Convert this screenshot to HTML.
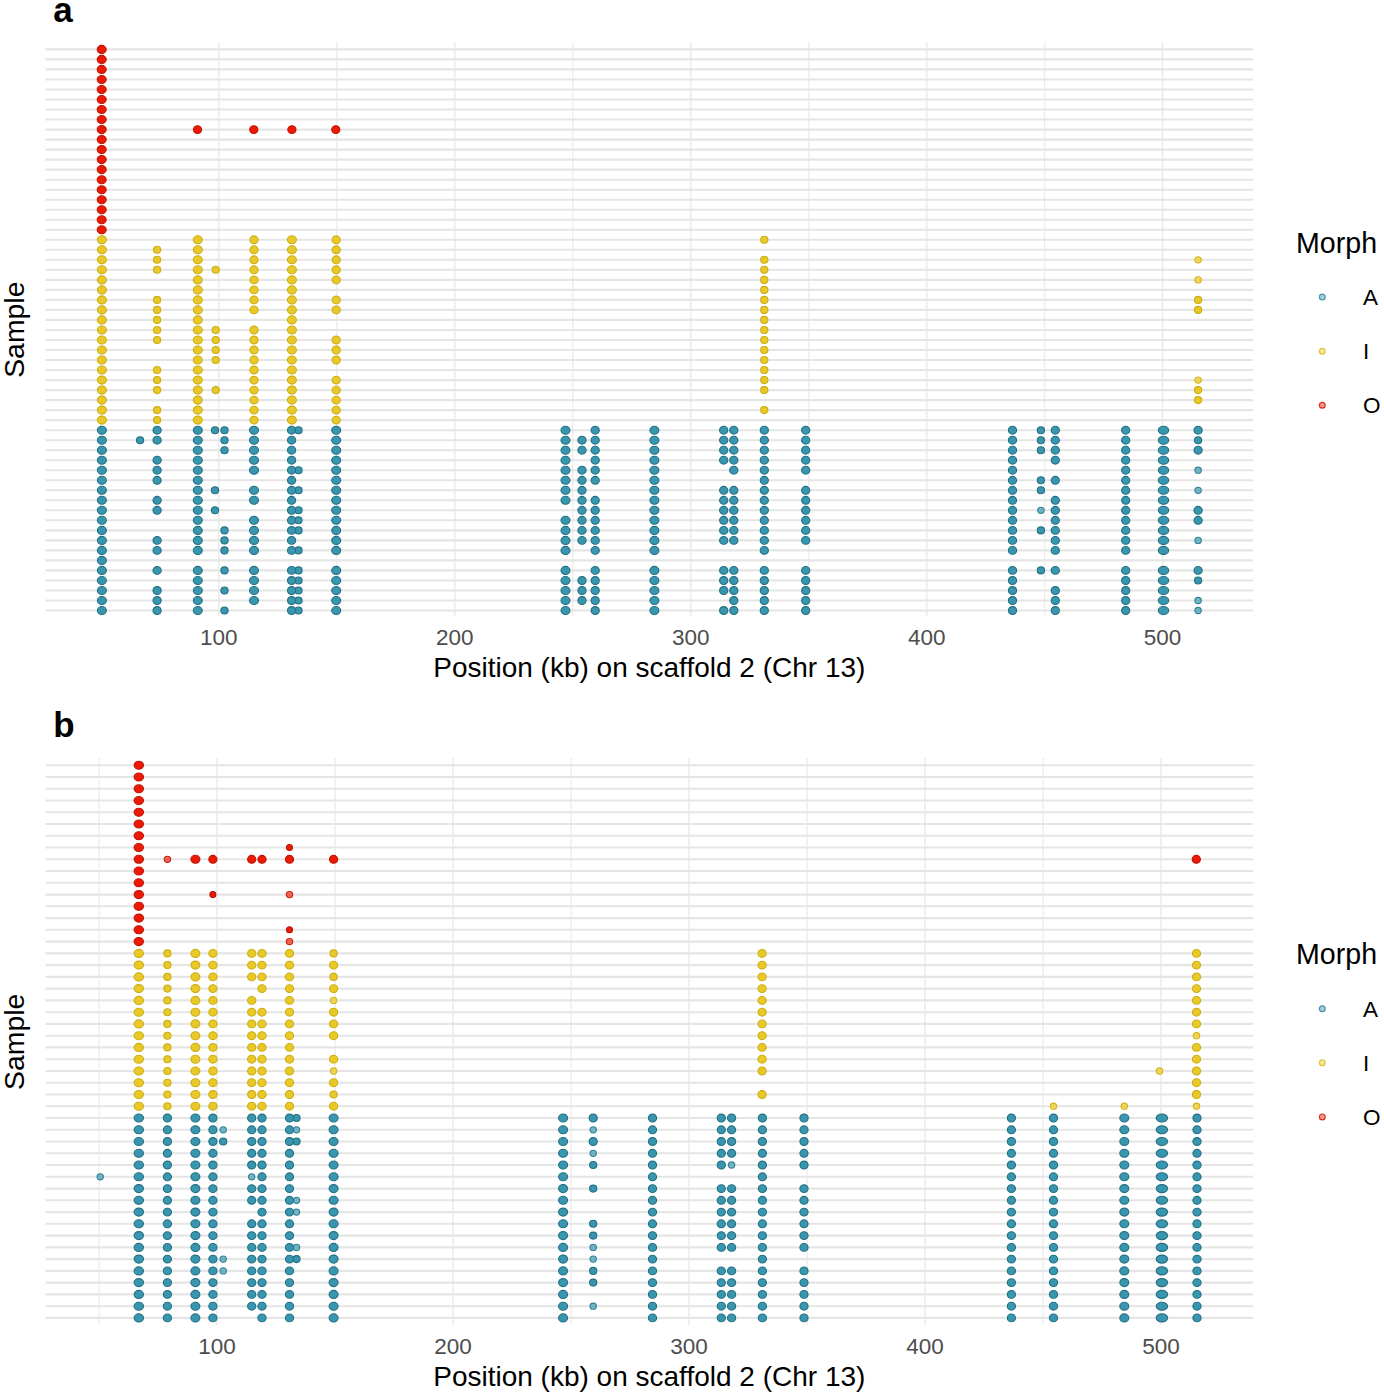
<!DOCTYPE html>
<html><head><meta charset="utf-8"><title>Morph plot</title><style>
html,body{margin:0;padding:0;background:#fff;}
body{width:1384px;height:1395px;overflow:hidden;}
svg{display:block;}
text{font-family:"Liberation Sans",sans-serif;}
.h{stroke:#e5e5e5;stroke-width:2.1;}
.vM{stroke:#ececec;stroke-width:1.6;}
.vm{stroke:#eeeeee;stroke-width:1.5;}
.tk{font-size:22.5px;fill:#4d4d4d;text-anchor:middle;}
.ttl{font-size:28px;fill:#000;text-anchor:middle;}
.lbl{font-size:35px;font-weight:bold;fill:#000;}
.lg{font-size:22.5px;fill:#000;}
.A{fill:#3896AE;stroke:#256F83;stroke-width:1.1;}
.I{fill:#E9C829;stroke:#CDAE12;stroke-width:1.1;}
.O{fill:#EC1A05;stroke:#BE1404;stroke-width:1.1;}
.As{fill:#3B9AB2;fill-opacity:0.7;stroke:#2B7C90;stroke-opacity:0.95;stroke-width:1.1;}
.Is{fill:#EBCC2A;fill-opacity:0.75;stroke:#D4B010;stroke-opacity:0.95;stroke-width:1.1;}
.Os{fill:#F21A00;fill-opacity:0.65;stroke:#C91505;stroke-opacity:0.95;stroke-width:1.1;}
.Al{fill:#3B9AB2;fill-opacity:0.45;stroke:#2E8499;stroke-opacity:0.85;stroke-width:1.2;}
.Il{fill:#EBCC2A;fill-opacity:0.45;stroke:#D9BA1C;stroke-opacity:0.85;stroke-width:1.2;}
.Ol{fill:#F21A00;fill-opacity:0.45;stroke:#D81500;stroke-opacity:0.85;stroke-width:1.2;}
</style></head>
<body>
<svg width="1384" height="1395" viewBox="0 0 1384 1395">
<rect width="1384" height="1395" fill="#fff"/>
<text x="53.3" y="22.2" class="lbl">a</text>
<text x="53.2" y="736.6" class="lbl">b</text>
<text transform="translate(24.0,329.7) rotate(-90)" class="ttl" style="font-size:28.4px">Sample</text>
<text transform="translate(24.0,1041.8) rotate(-90)" class="ttl" style="font-size:28.4px">Sample</text>
<text x="649.3" y="676.8" class="ttl">Position (kb) on scaffold 2 (Chr 13)</text>
<text x="649.3" y="1385.6" class="ttl">Position (kb) on scaffold 2 (Chr 13)</text>
<line x1="100.8" y1="42.3" x2="100.8" y2="616.5" class="vm"/>
<line x1="218.8" y1="42.3" x2="218.8" y2="616.5" class="vM"/>
<line x1="336.8" y1="42.3" x2="336.8" y2="616.5" class="vm"/>
<line x1="454.8" y1="42.3" x2="454.8" y2="616.5" class="vM"/>
<line x1="572.7" y1="42.3" x2="572.7" y2="616.5" class="vm"/>
<line x1="690.7" y1="42.3" x2="690.7" y2="616.5" class="vM"/>
<line x1="808.7" y1="42.3" x2="808.7" y2="616.5" class="vm"/>
<line x1="926.7" y1="42.3" x2="926.7" y2="616.5" class="vM"/>
<line x1="1044.6" y1="42.3" x2="1044.6" y2="616.5" class="vm"/>
<line x1="1162.6" y1="42.3" x2="1162.6" y2="616.5" class="vM"/>
<line x1="45.5" y1="49.4" x2="1253" y2="49.4" class="h"/>
<line x1="45.5" y1="59.4" x2="1253" y2="59.4" class="h"/>
<line x1="45.5" y1="69.4" x2="1253" y2="69.4" class="h"/>
<line x1="45.5" y1="79.5" x2="1253" y2="79.5" class="h"/>
<line x1="45.5" y1="89.5" x2="1253" y2="89.5" class="h"/>
<line x1="45.5" y1="99.5" x2="1253" y2="99.5" class="h"/>
<line x1="45.5" y1="109.5" x2="1253" y2="109.5" class="h"/>
<line x1="45.5" y1="119.5" x2="1253" y2="119.5" class="h"/>
<line x1="45.5" y1="129.6" x2="1253" y2="129.6" class="h"/>
<line x1="45.5" y1="139.6" x2="1253" y2="139.6" class="h"/>
<line x1="45.5" y1="149.6" x2="1253" y2="149.6" class="h"/>
<line x1="45.5" y1="159.6" x2="1253" y2="159.6" class="h"/>
<line x1="45.5" y1="169.6" x2="1253" y2="169.6" class="h"/>
<line x1="45.5" y1="179.7" x2="1253" y2="179.7" class="h"/>
<line x1="45.5" y1="189.7" x2="1253" y2="189.7" class="h"/>
<line x1="45.5" y1="199.7" x2="1253" y2="199.7" class="h"/>
<line x1="45.5" y1="209.7" x2="1253" y2="209.7" class="h"/>
<line x1="45.5" y1="219.7" x2="1253" y2="219.7" class="h"/>
<line x1="45.5" y1="229.8" x2="1253" y2="229.8" class="h"/>
<line x1="45.5" y1="239.8" x2="1253" y2="239.8" class="h"/>
<line x1="45.5" y1="249.8" x2="1253" y2="249.8" class="h"/>
<line x1="45.5" y1="259.8" x2="1253" y2="259.8" class="h"/>
<line x1="45.5" y1="269.8" x2="1253" y2="269.8" class="h"/>
<line x1="45.5" y1="279.9" x2="1253" y2="279.9" class="h"/>
<line x1="45.5" y1="289.9" x2="1253" y2="289.9" class="h"/>
<line x1="45.5" y1="299.9" x2="1253" y2="299.9" class="h"/>
<line x1="45.5" y1="309.9" x2="1253" y2="309.9" class="h"/>
<line x1="45.5" y1="319.9" x2="1253" y2="319.9" class="h"/>
<line x1="45.5" y1="330" x2="1253" y2="330" class="h"/>
<line x1="45.5" y1="340" x2="1253" y2="340" class="h"/>
<line x1="45.5" y1="350" x2="1253" y2="350" class="h"/>
<line x1="45.5" y1="360" x2="1253" y2="360" class="h"/>
<line x1="45.5" y1="370" x2="1253" y2="370" class="h"/>
<line x1="45.5" y1="380.1" x2="1253" y2="380.1" class="h"/>
<line x1="45.5" y1="390.1" x2="1253" y2="390.1" class="h"/>
<line x1="45.5" y1="400.1" x2="1253" y2="400.1" class="h"/>
<line x1="45.5" y1="410.1" x2="1253" y2="410.1" class="h"/>
<line x1="45.5" y1="420.1" x2="1253" y2="420.1" class="h"/>
<line x1="45.5" y1="430.2" x2="1253" y2="430.2" class="h"/>
<line x1="45.5" y1="440.2" x2="1253" y2="440.2" class="h"/>
<line x1="45.5" y1="450.2" x2="1253" y2="450.2" class="h"/>
<line x1="45.5" y1="460.2" x2="1253" y2="460.2" class="h"/>
<line x1="45.5" y1="470.2" x2="1253" y2="470.2" class="h"/>
<line x1="45.5" y1="480.3" x2="1253" y2="480.3" class="h"/>
<line x1="45.5" y1="490.3" x2="1253" y2="490.3" class="h"/>
<line x1="45.5" y1="500.3" x2="1253" y2="500.3" class="h"/>
<line x1="45.5" y1="510.3" x2="1253" y2="510.3" class="h"/>
<line x1="45.5" y1="520.3" x2="1253" y2="520.3" class="h"/>
<line x1="45.5" y1="530.4" x2="1253" y2="530.4" class="h"/>
<line x1="45.5" y1="540.4" x2="1253" y2="540.4" class="h"/>
<line x1="45.5" y1="550.4" x2="1253" y2="550.4" class="h"/>
<line x1="45.5" y1="560.4" x2="1253" y2="560.4" class="h"/>
<line x1="45.5" y1="570.4" x2="1253" y2="570.4" class="h"/>
<line x1="45.5" y1="580.5" x2="1253" y2="580.5" class="h"/>
<line x1="45.5" y1="590.5" x2="1253" y2="590.5" class="h"/>
<line x1="45.5" y1="600.5" x2="1253" y2="600.5" class="h"/>
<line x1="45.5" y1="610.5" x2="1253" y2="610.5" class="h"/>
<text x="218.8" y="645.3" class="tk">100</text>
<text x="454.8" y="645.3" class="tk">200</text>
<text x="690.7" y="645.3" class="tk">300</text>
<text x="926.7" y="645.3" class="tk">400</text>
<text x="1162.6" y="645.3" class="tk">500</text>
<ellipse cx="101.7" cy="49.4" rx="4.5" ry="4" class="O"/>
<ellipse cx="101.7" cy="59.4" rx="4.5" ry="4" class="O"/>
<ellipse cx="101.7" cy="69.4" rx="4.5" ry="4" class="O"/>
<ellipse cx="101.7" cy="79.5" rx="4.5" ry="4" class="O"/>
<ellipse cx="101.7" cy="89.5" rx="4.5" ry="4" class="O"/>
<ellipse cx="101.7" cy="99.5" rx="4.5" ry="4" class="O"/>
<ellipse cx="101.7" cy="109.5" rx="4.5" ry="4" class="O"/>
<ellipse cx="101.7" cy="119.5" rx="4.5" ry="4" class="O"/>
<ellipse cx="101.7" cy="129.6" rx="4.5" ry="4" class="O"/>
<ellipse cx="101.7" cy="139.6" rx="4.5" ry="4" class="O"/>
<ellipse cx="101.7" cy="149.6" rx="4.5" ry="4" class="O"/>
<ellipse cx="101.7" cy="159.6" rx="4.5" ry="4" class="O"/>
<ellipse cx="101.7" cy="169.6" rx="4.5" ry="4" class="O"/>
<ellipse cx="101.7" cy="179.7" rx="4.5" ry="4" class="O"/>
<ellipse cx="101.7" cy="189.7" rx="4.5" ry="4" class="O"/>
<ellipse cx="101.7" cy="199.7" rx="4.5" ry="4" class="O"/>
<ellipse cx="101.7" cy="209.7" rx="4.5" ry="4" class="O"/>
<ellipse cx="101.7" cy="219.7" rx="4.5" ry="4" class="O"/>
<ellipse cx="101.7" cy="229.8" rx="4.5" ry="4" class="O"/>
<ellipse cx="197.5" cy="129.6" rx="4.1" ry="3.9" class="O"/>
<ellipse cx="253.8" cy="129.6" rx="4.1" ry="3.9" class="O"/>
<ellipse cx="291.9" cy="129.6" rx="4.1" ry="3.9" class="O"/>
<ellipse cx="335.8" cy="129.6" rx="4.1" ry="3.9" class="O"/>
<ellipse cx="101.9" cy="239.8" rx="4.5" ry="4" class="I"/>
<ellipse cx="101.9" cy="249.8" rx="4.5" ry="4" class="I"/>
<ellipse cx="101.9" cy="259.8" rx="4.5" ry="4" class="I"/>
<ellipse cx="101.9" cy="269.8" rx="4.5" ry="4" class="I"/>
<ellipse cx="101.9" cy="279.9" rx="4.5" ry="4" class="I"/>
<ellipse cx="101.9" cy="289.9" rx="4.5" ry="4" class="I"/>
<ellipse cx="101.9" cy="299.9" rx="4.5" ry="4" class="I"/>
<ellipse cx="101.9" cy="309.9" rx="4.5" ry="4" class="I"/>
<ellipse cx="101.9" cy="319.9" rx="4.5" ry="4" class="I"/>
<ellipse cx="101.9" cy="330" rx="4.5" ry="4" class="I"/>
<ellipse cx="101.9" cy="340" rx="4.5" ry="4" class="I"/>
<ellipse cx="101.9" cy="350" rx="4.5" ry="4" class="I"/>
<ellipse cx="101.9" cy="360" rx="4.5" ry="4" class="I"/>
<ellipse cx="101.9" cy="370" rx="4.5" ry="4" class="I"/>
<ellipse cx="101.9" cy="380.1" rx="4.5" ry="4" class="I"/>
<ellipse cx="101.9" cy="390.1" rx="4.5" ry="4" class="I"/>
<ellipse cx="101.9" cy="400.1" rx="4.5" ry="4" class="I"/>
<ellipse cx="101.9" cy="410.1" rx="4.5" ry="4" class="I"/>
<ellipse cx="101.9" cy="420.1" rx="4.5" ry="4" class="I"/>
<ellipse cx="157.1" cy="249.8" rx="3.6" ry="3.5" class="I"/>
<ellipse cx="157.1" cy="259.8" rx="3.6" ry="3.5" class="I"/>
<ellipse cx="157.1" cy="269.8" rx="3.6" ry="3.5" class="I"/>
<ellipse cx="157.1" cy="299.9" rx="3.6" ry="3.5" class="I"/>
<ellipse cx="157.1" cy="309.9" rx="3.6" ry="3.5" class="I"/>
<ellipse cx="157.1" cy="319.9" rx="3.6" ry="3.5" class="I"/>
<ellipse cx="157.1" cy="330" rx="3.6" ry="3.5" class="I"/>
<ellipse cx="157.1" cy="340" rx="3.6" ry="3.5" class="I"/>
<ellipse cx="157.1" cy="370" rx="3.6" ry="3.5" class="I"/>
<ellipse cx="157.1" cy="380.1" rx="3.6" ry="3.5" class="I"/>
<ellipse cx="157.1" cy="390.1" rx="3.6" ry="3.5" class="I"/>
<ellipse cx="157.1" cy="410.1" rx="3.6" ry="3.5" class="I"/>
<ellipse cx="157.1" cy="420.1" rx="3.6" ry="3.5" class="I"/>
<ellipse cx="197.8" cy="239.8" rx="4.5" ry="4" class="I"/>
<ellipse cx="197.8" cy="249.8" rx="4.5" ry="4" class="I"/>
<ellipse cx="197.8" cy="259.8" rx="4.5" ry="4" class="I"/>
<ellipse cx="197.8" cy="269.8" rx="4.5" ry="4" class="I"/>
<ellipse cx="197.8" cy="279.9" rx="4.5" ry="4" class="I"/>
<ellipse cx="197.8" cy="289.9" rx="4.5" ry="4" class="I"/>
<ellipse cx="197.8" cy="299.9" rx="4.5" ry="4" class="I"/>
<ellipse cx="197.8" cy="309.9" rx="4.5" ry="4" class="I"/>
<ellipse cx="197.8" cy="319.9" rx="4.5" ry="4" class="I"/>
<ellipse cx="197.8" cy="330" rx="4.5" ry="4" class="I"/>
<ellipse cx="197.8" cy="340" rx="4.5" ry="4" class="I"/>
<ellipse cx="197.8" cy="350" rx="4.5" ry="4" class="I"/>
<ellipse cx="197.8" cy="360" rx="4.5" ry="4" class="I"/>
<ellipse cx="197.8" cy="370" rx="4.5" ry="4" class="I"/>
<ellipse cx="197.8" cy="380.1" rx="4.5" ry="4" class="I"/>
<ellipse cx="197.8" cy="390.1" rx="4.5" ry="4" class="I"/>
<ellipse cx="197.8" cy="400.1" rx="4.5" ry="4" class="I"/>
<ellipse cx="197.8" cy="410.1" rx="4.5" ry="4" class="I"/>
<ellipse cx="197.8" cy="420.1" rx="4.5" ry="4" class="I"/>
<ellipse cx="215.7" cy="269.8" rx="3.6" ry="3.5" class="I"/>
<ellipse cx="215.7" cy="330" rx="3.6" ry="3.5" class="I"/>
<ellipse cx="215.7" cy="340" rx="3.6" ry="3.5" class="I"/>
<ellipse cx="215.7" cy="350" rx="3.6" ry="3.5" class="I"/>
<ellipse cx="215.7" cy="360" rx="3.6" ry="3.5" class="I"/>
<ellipse cx="215.7" cy="390.1" rx="3.6" ry="3.5" class="I"/>
<ellipse cx="254" cy="239.8" rx="4.1" ry="3.9" class="I"/>
<ellipse cx="254" cy="249.8" rx="4.1" ry="3.9" class="I"/>
<ellipse cx="254" cy="259.8" rx="4.1" ry="3.9" class="I"/>
<ellipse cx="254" cy="269.8" rx="4.1" ry="3.9" class="I"/>
<ellipse cx="254" cy="279.9" rx="4.1" ry="3.9" class="I"/>
<ellipse cx="254" cy="289.9" rx="4.1" ry="3.9" class="I"/>
<ellipse cx="254" cy="299.9" rx="4.1" ry="3.9" class="I"/>
<ellipse cx="254" cy="309.9" rx="4.1" ry="3.9" class="I"/>
<ellipse cx="254" cy="330" rx="4.1" ry="3.9" class="I"/>
<ellipse cx="254" cy="340" rx="4.1" ry="3.9" class="I"/>
<ellipse cx="254" cy="350" rx="4.1" ry="3.9" class="I"/>
<ellipse cx="254" cy="360" rx="4.1" ry="3.9" class="I"/>
<ellipse cx="254" cy="370" rx="4.1" ry="3.9" class="I"/>
<ellipse cx="254" cy="380.1" rx="4.1" ry="3.9" class="I"/>
<ellipse cx="254" cy="390.1" rx="4.1" ry="3.9" class="I"/>
<ellipse cx="254" cy="400.1" rx="4.1" ry="3.9" class="I"/>
<ellipse cx="254" cy="410.1" rx="4.1" ry="3.9" class="I"/>
<ellipse cx="254" cy="420.1" rx="4.1" ry="3.9" class="I"/>
<ellipse cx="291.9" cy="239.8" rx="4.5" ry="4" class="I"/>
<ellipse cx="291.9" cy="249.8" rx="4.5" ry="4" class="I"/>
<ellipse cx="291.9" cy="259.8" rx="4.5" ry="4" class="I"/>
<ellipse cx="291.9" cy="269.8" rx="4.5" ry="4" class="I"/>
<ellipse cx="291.9" cy="279.9" rx="4.5" ry="4" class="I"/>
<ellipse cx="291.9" cy="289.9" rx="4.5" ry="4" class="I"/>
<ellipse cx="291.9" cy="299.9" rx="4.5" ry="4" class="I"/>
<ellipse cx="291.9" cy="309.9" rx="4.5" ry="4" class="I"/>
<ellipse cx="291.9" cy="319.9" rx="4.5" ry="4" class="I"/>
<ellipse cx="291.9" cy="330" rx="4.5" ry="4" class="I"/>
<ellipse cx="291.9" cy="340" rx="4.5" ry="4" class="I"/>
<ellipse cx="291.9" cy="350" rx="4.5" ry="4" class="I"/>
<ellipse cx="291.9" cy="360" rx="4.5" ry="4" class="I"/>
<ellipse cx="291.9" cy="370" rx="4.5" ry="4" class="I"/>
<ellipse cx="291.9" cy="380.1" rx="4.5" ry="4" class="I"/>
<ellipse cx="291.9" cy="390.1" rx="4.5" ry="4" class="I"/>
<ellipse cx="291.9" cy="400.1" rx="4.5" ry="4" class="I"/>
<ellipse cx="291.9" cy="410.1" rx="4.5" ry="4" class="I"/>
<ellipse cx="291.9" cy="420.1" rx="4.5" ry="4" class="I"/>
<ellipse cx="336.2" cy="239.8" rx="4.1" ry="3.9" class="I"/>
<ellipse cx="336.2" cy="249.8" rx="4.1" ry="3.9" class="I"/>
<ellipse cx="336.2" cy="259.8" rx="4.1" ry="3.9" class="I"/>
<ellipse cx="336.2" cy="269.8" rx="4.1" ry="3.9" class="I"/>
<ellipse cx="336.2" cy="279.9" rx="4.1" ry="3.9" class="I"/>
<ellipse cx="336.2" cy="299.9" rx="4.1" ry="3.9" class="I"/>
<ellipse cx="336.2" cy="309.9" rx="4.1" ry="3.9" class="I"/>
<ellipse cx="336.2" cy="340" rx="4.1" ry="3.9" class="I"/>
<ellipse cx="336.2" cy="350" rx="4.1" ry="3.9" class="I"/>
<ellipse cx="336.2" cy="360" rx="4.1" ry="3.9" class="I"/>
<ellipse cx="336.2" cy="380.1" rx="4.1" ry="3.9" class="I"/>
<ellipse cx="336.2" cy="390.1" rx="4.1" ry="3.9" class="I"/>
<ellipse cx="336.2" cy="400.1" rx="4.1" ry="3.9" class="I"/>
<ellipse cx="336.2" cy="410.1" rx="4.1" ry="3.9" class="I"/>
<ellipse cx="336.2" cy="420.1" rx="4.1" ry="3.9" class="I"/>
<ellipse cx="764.3" cy="239.8" rx="3.6" ry="3.5" class="I"/>
<ellipse cx="764.3" cy="259.8" rx="3.6" ry="3.5" class="I"/>
<ellipse cx="764.3" cy="269.8" rx="3.6" ry="3.5" class="I"/>
<ellipse cx="764.3" cy="279.9" rx="3.6" ry="3.5" class="I"/>
<ellipse cx="764.3" cy="289.9" rx="3.6" ry="3.5" class="I"/>
<ellipse cx="764.3" cy="299.9" rx="3.6" ry="3.5" class="I"/>
<ellipse cx="764.3" cy="309.9" rx="3.6" ry="3.5" class="I"/>
<ellipse cx="764.3" cy="319.9" rx="3.6" ry="3.5" class="I"/>
<ellipse cx="764.3" cy="330" rx="3.6" ry="3.5" class="I"/>
<ellipse cx="764.3" cy="340" rx="3.6" ry="3.5" class="I"/>
<ellipse cx="764.3" cy="350" rx="3.6" ry="3.5" class="I"/>
<ellipse cx="764.3" cy="360" rx="3.6" ry="3.5" class="I"/>
<ellipse cx="764.3" cy="370" rx="3.6" ry="3.5" class="I"/>
<ellipse cx="764.3" cy="380.1" rx="3.6" ry="3.5" class="I"/>
<ellipse cx="764.3" cy="390.1" rx="3.6" ry="3.5" class="I"/>
<ellipse cx="764.3" cy="410.1" rx="3.6" ry="3.5" class="I"/>
<ellipse cx="1198.1" cy="299.9" rx="3.6" ry="3.5" class="I"/>
<ellipse cx="1198.1" cy="309.9" rx="3.6" ry="3.5" class="I"/>
<ellipse cx="1198.1" cy="390.1" rx="3.6" ry="3.5" class="I"/>
<ellipse cx="1198.1" cy="400.1" rx="3.6" ry="3.5" class="I"/>
<ellipse cx="1198.1" cy="259.8" rx="3.2" ry="3.1" class="Is"/>
<ellipse cx="1198.1" cy="279.9" rx="3.2" ry="3.1" class="Is"/>
<ellipse cx="1198.1" cy="380.1" rx="3.2" ry="3.1" class="Is"/>
<ellipse cx="101.9" cy="430.2" rx="4.5" ry="4" class="A"/>
<ellipse cx="101.9" cy="440.2" rx="4.5" ry="4" class="A"/>
<ellipse cx="101.9" cy="450.2" rx="4.5" ry="4" class="A"/>
<ellipse cx="101.9" cy="460.2" rx="4.5" ry="4" class="A"/>
<ellipse cx="101.9" cy="470.2" rx="4.5" ry="4" class="A"/>
<ellipse cx="101.9" cy="480.3" rx="4.5" ry="4" class="A"/>
<ellipse cx="101.9" cy="490.3" rx="4.5" ry="4" class="A"/>
<ellipse cx="101.9" cy="500.3" rx="4.5" ry="4" class="A"/>
<ellipse cx="101.9" cy="510.3" rx="4.5" ry="4" class="A"/>
<ellipse cx="101.9" cy="520.3" rx="4.5" ry="4" class="A"/>
<ellipse cx="101.9" cy="530.4" rx="4.5" ry="4" class="A"/>
<ellipse cx="101.9" cy="540.4" rx="4.5" ry="4" class="A"/>
<ellipse cx="101.9" cy="550.4" rx="4.5" ry="4" class="A"/>
<ellipse cx="101.9" cy="560.4" rx="4.5" ry="4" class="A"/>
<ellipse cx="101.9" cy="570.4" rx="4.5" ry="4" class="A"/>
<ellipse cx="101.9" cy="580.5" rx="4.5" ry="4" class="A"/>
<ellipse cx="101.9" cy="590.5" rx="4.5" ry="4" class="A"/>
<ellipse cx="101.9" cy="600.5" rx="4.5" ry="4" class="A"/>
<ellipse cx="101.9" cy="610.5" rx="4.5" ry="4" class="A"/>
<ellipse cx="140.1" cy="440.2" rx="3.6" ry="3.5" class="A"/>
<ellipse cx="157.1" cy="430.2" rx="4.1" ry="3.9" class="A"/>
<ellipse cx="157.1" cy="440.2" rx="4.1" ry="3.9" class="A"/>
<ellipse cx="157.1" cy="460.2" rx="4.1" ry="3.9" class="A"/>
<ellipse cx="157.1" cy="470.2" rx="4.1" ry="3.9" class="A"/>
<ellipse cx="157.1" cy="480.3" rx="4.1" ry="3.9" class="A"/>
<ellipse cx="157.1" cy="500.3" rx="4.1" ry="3.9" class="A"/>
<ellipse cx="157.1" cy="510.3" rx="4.1" ry="3.9" class="A"/>
<ellipse cx="157.1" cy="540.4" rx="4.1" ry="3.9" class="A"/>
<ellipse cx="157.1" cy="550.4" rx="4.1" ry="3.9" class="A"/>
<ellipse cx="157.1" cy="570.4" rx="4.1" ry="3.9" class="A"/>
<ellipse cx="157.1" cy="590.5" rx="4.1" ry="3.9" class="A"/>
<ellipse cx="157.1" cy="600.5" rx="4.1" ry="3.9" class="A"/>
<ellipse cx="157.1" cy="610.5" rx="4.1" ry="3.9" class="A"/>
<ellipse cx="197.8" cy="430.2" rx="4.5" ry="4" class="A"/>
<ellipse cx="197.8" cy="440.2" rx="4.5" ry="4" class="A"/>
<ellipse cx="197.8" cy="450.2" rx="4.5" ry="4" class="A"/>
<ellipse cx="197.8" cy="460.2" rx="4.5" ry="4" class="A"/>
<ellipse cx="197.8" cy="470.2" rx="4.5" ry="4" class="A"/>
<ellipse cx="197.8" cy="480.3" rx="4.5" ry="4" class="A"/>
<ellipse cx="197.8" cy="490.3" rx="4.5" ry="4" class="A"/>
<ellipse cx="197.8" cy="500.3" rx="4.5" ry="4" class="A"/>
<ellipse cx="197.8" cy="510.3" rx="4.5" ry="4" class="A"/>
<ellipse cx="197.8" cy="520.3" rx="4.5" ry="4" class="A"/>
<ellipse cx="197.8" cy="530.4" rx="4.5" ry="4" class="A"/>
<ellipse cx="197.8" cy="540.4" rx="4.5" ry="4" class="A"/>
<ellipse cx="197.8" cy="550.4" rx="4.5" ry="4" class="A"/>
<ellipse cx="197.8" cy="570.4" rx="4.5" ry="4" class="A"/>
<ellipse cx="197.8" cy="580.5" rx="4.5" ry="4" class="A"/>
<ellipse cx="197.8" cy="590.5" rx="4.5" ry="4" class="A"/>
<ellipse cx="197.8" cy="600.5" rx="4.5" ry="4" class="A"/>
<ellipse cx="197.8" cy="610.5" rx="4.5" ry="4" class="A"/>
<ellipse cx="215" cy="430.2" rx="3.6" ry="3.5" class="A"/>
<ellipse cx="215" cy="490.3" rx="3.6" ry="3.5" class="A"/>
<ellipse cx="215" cy="510.3" rx="3.6" ry="3.5" class="A"/>
<ellipse cx="224.5" cy="430.2" rx="3.6" ry="3.5" class="A"/>
<ellipse cx="224.5" cy="440.2" rx="3.6" ry="3.5" class="A"/>
<ellipse cx="224.5" cy="450.2" rx="3.6" ry="3.5" class="A"/>
<ellipse cx="224.5" cy="530.4" rx="3.6" ry="3.5" class="A"/>
<ellipse cx="224.5" cy="540.4" rx="3.6" ry="3.5" class="A"/>
<ellipse cx="224.5" cy="550.4" rx="3.6" ry="3.5" class="A"/>
<ellipse cx="224.5" cy="570.4" rx="3.6" ry="3.5" class="A"/>
<ellipse cx="224.5" cy="590.5" rx="3.6" ry="3.5" class="A"/>
<ellipse cx="224.5" cy="610.5" rx="3.6" ry="3.5" class="A"/>
<ellipse cx="254" cy="430.2" rx="4.5" ry="4" class="A"/>
<ellipse cx="254" cy="440.2" rx="4.5" ry="4" class="A"/>
<ellipse cx="254" cy="450.2" rx="4.5" ry="4" class="A"/>
<ellipse cx="254" cy="460.2" rx="4.5" ry="4" class="A"/>
<ellipse cx="254" cy="470.2" rx="4.5" ry="4" class="A"/>
<ellipse cx="254" cy="490.3" rx="4.5" ry="4" class="A"/>
<ellipse cx="254" cy="500.3" rx="4.5" ry="4" class="A"/>
<ellipse cx="254" cy="520.3" rx="4.5" ry="4" class="A"/>
<ellipse cx="254" cy="530.4" rx="4.5" ry="4" class="A"/>
<ellipse cx="254" cy="540.4" rx="4.5" ry="4" class="A"/>
<ellipse cx="254" cy="550.4" rx="4.5" ry="4" class="A"/>
<ellipse cx="254" cy="570.4" rx="4.5" ry="4" class="A"/>
<ellipse cx="254" cy="580.5" rx="4.5" ry="4" class="A"/>
<ellipse cx="254" cy="590.5" rx="4.5" ry="4" class="A"/>
<ellipse cx="254" cy="600.5" rx="4.5" ry="4" class="A"/>
<ellipse cx="298.5" cy="430.2" rx="3.6" ry="3.5" class="A"/>
<ellipse cx="298.5" cy="470.2" rx="3.6" ry="3.5" class="A"/>
<ellipse cx="298.5" cy="490.3" rx="3.6" ry="3.5" class="A"/>
<ellipse cx="298.5" cy="510.3" rx="3.6" ry="3.5" class="A"/>
<ellipse cx="298.5" cy="520.3" rx="3.6" ry="3.5" class="A"/>
<ellipse cx="298.5" cy="530.4" rx="3.6" ry="3.5" class="A"/>
<ellipse cx="298.5" cy="550.4" rx="3.6" ry="3.5" class="A"/>
<ellipse cx="298.5" cy="570.4" rx="3.6" ry="3.5" class="A"/>
<ellipse cx="298.5" cy="580.5" rx="3.6" ry="3.5" class="A"/>
<ellipse cx="298.5" cy="590.5" rx="3.6" ry="3.5" class="A"/>
<ellipse cx="298.5" cy="600.5" rx="3.6" ry="3.5" class="A"/>
<ellipse cx="298.5" cy="610.5" rx="3.6" ry="3.5" class="A"/>
<ellipse cx="291.6" cy="430.2" rx="4.1" ry="3.9" class="A"/>
<ellipse cx="291.6" cy="440.2" rx="4.1" ry="3.9" class="A"/>
<ellipse cx="291.6" cy="450.2" rx="4.1" ry="3.9" class="A"/>
<ellipse cx="291.6" cy="460.2" rx="4.1" ry="3.9" class="A"/>
<ellipse cx="291.6" cy="470.2" rx="4.1" ry="3.9" class="A"/>
<ellipse cx="291.6" cy="480.3" rx="4.1" ry="3.9" class="A"/>
<ellipse cx="291.6" cy="490.3" rx="4.1" ry="3.9" class="A"/>
<ellipse cx="291.6" cy="500.3" rx="4.1" ry="3.9" class="A"/>
<ellipse cx="291.6" cy="510.3" rx="4.1" ry="3.9" class="A"/>
<ellipse cx="291.6" cy="520.3" rx="4.1" ry="3.9" class="A"/>
<ellipse cx="291.6" cy="530.4" rx="4.1" ry="3.9" class="A"/>
<ellipse cx="291.6" cy="540.4" rx="4.1" ry="3.9" class="A"/>
<ellipse cx="291.6" cy="550.4" rx="4.1" ry="3.9" class="A"/>
<ellipse cx="291.6" cy="570.4" rx="4.1" ry="3.9" class="A"/>
<ellipse cx="291.6" cy="580.5" rx="4.1" ry="3.9" class="A"/>
<ellipse cx="291.6" cy="590.5" rx="4.1" ry="3.9" class="A"/>
<ellipse cx="291.6" cy="600.5" rx="4.1" ry="3.9" class="A"/>
<ellipse cx="291.6" cy="610.5" rx="4.1" ry="3.9" class="A"/>
<ellipse cx="336.2" cy="430.2" rx="4.5" ry="4" class="A"/>
<ellipse cx="336.2" cy="440.2" rx="4.5" ry="4" class="A"/>
<ellipse cx="336.2" cy="450.2" rx="4.5" ry="4" class="A"/>
<ellipse cx="336.2" cy="460.2" rx="4.5" ry="4" class="A"/>
<ellipse cx="336.2" cy="470.2" rx="4.5" ry="4" class="A"/>
<ellipse cx="336.2" cy="480.3" rx="4.5" ry="4" class="A"/>
<ellipse cx="336.2" cy="490.3" rx="4.5" ry="4" class="A"/>
<ellipse cx="336.2" cy="500.3" rx="4.5" ry="4" class="A"/>
<ellipse cx="336.2" cy="510.3" rx="4.5" ry="4" class="A"/>
<ellipse cx="336.2" cy="520.3" rx="4.5" ry="4" class="A"/>
<ellipse cx="336.2" cy="530.4" rx="4.5" ry="4" class="A"/>
<ellipse cx="336.2" cy="540.4" rx="4.5" ry="4" class="A"/>
<ellipse cx="336.2" cy="550.4" rx="4.5" ry="4" class="A"/>
<ellipse cx="336.2" cy="570.4" rx="4.5" ry="4" class="A"/>
<ellipse cx="336.2" cy="580.5" rx="4.5" ry="4" class="A"/>
<ellipse cx="336.2" cy="590.5" rx="4.5" ry="4" class="A"/>
<ellipse cx="336.2" cy="600.5" rx="4.5" ry="4" class="A"/>
<ellipse cx="336.2" cy="610.5" rx="4.5" ry="4" class="A"/>
<ellipse cx="565.5" cy="430.2" rx="4.5" ry="4" class="A"/>
<ellipse cx="565.5" cy="440.2" rx="4.5" ry="4" class="A"/>
<ellipse cx="565.5" cy="450.2" rx="4.5" ry="4" class="A"/>
<ellipse cx="565.5" cy="460.2" rx="4.5" ry="4" class="A"/>
<ellipse cx="565.5" cy="470.2" rx="4.5" ry="4" class="A"/>
<ellipse cx="565.5" cy="480.3" rx="4.5" ry="4" class="A"/>
<ellipse cx="565.5" cy="490.3" rx="4.5" ry="4" class="A"/>
<ellipse cx="565.5" cy="500.3" rx="4.5" ry="4" class="A"/>
<ellipse cx="565.5" cy="520.3" rx="4.5" ry="4" class="A"/>
<ellipse cx="565.5" cy="530.4" rx="4.5" ry="4" class="A"/>
<ellipse cx="565.5" cy="540.4" rx="4.5" ry="4" class="A"/>
<ellipse cx="565.5" cy="550.4" rx="4.5" ry="4" class="A"/>
<ellipse cx="565.5" cy="570.4" rx="4.5" ry="4" class="A"/>
<ellipse cx="565.5" cy="580.5" rx="4.5" ry="4" class="A"/>
<ellipse cx="565.5" cy="590.5" rx="4.5" ry="4" class="A"/>
<ellipse cx="565.5" cy="600.5" rx="4.5" ry="4" class="A"/>
<ellipse cx="565.5" cy="610.5" rx="4.5" ry="4" class="A"/>
<ellipse cx="582" cy="440.2" rx="4.1" ry="3.9" class="A"/>
<ellipse cx="582" cy="450.2" rx="4.1" ry="3.9" class="A"/>
<ellipse cx="582" cy="470.2" rx="4.1" ry="3.9" class="A"/>
<ellipse cx="582" cy="480.3" rx="4.1" ry="3.9" class="A"/>
<ellipse cx="582" cy="490.3" rx="4.1" ry="3.9" class="A"/>
<ellipse cx="582" cy="500.3" rx="4.1" ry="3.9" class="A"/>
<ellipse cx="582" cy="510.3" rx="4.1" ry="3.9" class="A"/>
<ellipse cx="582" cy="520.3" rx="4.1" ry="3.9" class="A"/>
<ellipse cx="582" cy="530.4" rx="4.1" ry="3.9" class="A"/>
<ellipse cx="582" cy="540.4" rx="4.1" ry="3.9" class="A"/>
<ellipse cx="582" cy="580.5" rx="4.1" ry="3.9" class="A"/>
<ellipse cx="582" cy="590.5" rx="4.1" ry="3.9" class="A"/>
<ellipse cx="582" cy="600.5" rx="4.1" ry="3.9" class="A"/>
<ellipse cx="595.2" cy="430.2" rx="4.1" ry="3.9" class="A"/>
<ellipse cx="595.2" cy="440.2" rx="4.1" ry="3.9" class="A"/>
<ellipse cx="595.2" cy="450.2" rx="4.1" ry="3.9" class="A"/>
<ellipse cx="595.2" cy="460.2" rx="4.1" ry="3.9" class="A"/>
<ellipse cx="595.2" cy="470.2" rx="4.1" ry="3.9" class="A"/>
<ellipse cx="595.2" cy="480.3" rx="4.1" ry="3.9" class="A"/>
<ellipse cx="595.2" cy="500.3" rx="4.1" ry="3.9" class="A"/>
<ellipse cx="595.2" cy="510.3" rx="4.1" ry="3.9" class="A"/>
<ellipse cx="595.2" cy="520.3" rx="4.1" ry="3.9" class="A"/>
<ellipse cx="595.2" cy="530.4" rx="4.1" ry="3.9" class="A"/>
<ellipse cx="595.2" cy="540.4" rx="4.1" ry="3.9" class="A"/>
<ellipse cx="595.2" cy="550.4" rx="4.1" ry="3.9" class="A"/>
<ellipse cx="595.2" cy="570.4" rx="4.1" ry="3.9" class="A"/>
<ellipse cx="595.2" cy="580.5" rx="4.1" ry="3.9" class="A"/>
<ellipse cx="595.2" cy="590.5" rx="4.1" ry="3.9" class="A"/>
<ellipse cx="595.2" cy="600.5" rx="4.1" ry="3.9" class="A"/>
<ellipse cx="595.2" cy="610.5" rx="4.1" ry="3.9" class="A"/>
<ellipse cx="654.4" cy="430.2" rx="4.5" ry="4" class="A"/>
<ellipse cx="654.4" cy="440.2" rx="4.5" ry="4" class="A"/>
<ellipse cx="654.4" cy="450.2" rx="4.5" ry="4" class="A"/>
<ellipse cx="654.4" cy="460.2" rx="4.5" ry="4" class="A"/>
<ellipse cx="654.4" cy="470.2" rx="4.5" ry="4" class="A"/>
<ellipse cx="654.4" cy="480.3" rx="4.5" ry="4" class="A"/>
<ellipse cx="654.4" cy="490.3" rx="4.5" ry="4" class="A"/>
<ellipse cx="654.4" cy="500.3" rx="4.5" ry="4" class="A"/>
<ellipse cx="654.4" cy="510.3" rx="4.5" ry="4" class="A"/>
<ellipse cx="654.4" cy="520.3" rx="4.5" ry="4" class="A"/>
<ellipse cx="654.4" cy="530.4" rx="4.5" ry="4" class="A"/>
<ellipse cx="654.4" cy="540.4" rx="4.5" ry="4" class="A"/>
<ellipse cx="654.4" cy="550.4" rx="4.5" ry="4" class="A"/>
<ellipse cx="654.4" cy="570.4" rx="4.5" ry="4" class="A"/>
<ellipse cx="654.4" cy="580.5" rx="4.5" ry="4" class="A"/>
<ellipse cx="654.4" cy="590.5" rx="4.5" ry="4" class="A"/>
<ellipse cx="654.4" cy="600.5" rx="4.5" ry="4" class="A"/>
<ellipse cx="654.4" cy="610.5" rx="4.5" ry="4" class="A"/>
<ellipse cx="723.7" cy="430.2" rx="4.1" ry="3.9" class="A"/>
<ellipse cx="723.7" cy="440.2" rx="4.1" ry="3.9" class="A"/>
<ellipse cx="723.7" cy="450.2" rx="4.1" ry="3.9" class="A"/>
<ellipse cx="723.7" cy="460.2" rx="4.1" ry="3.9" class="A"/>
<ellipse cx="723.7" cy="490.3" rx="4.1" ry="3.9" class="A"/>
<ellipse cx="723.7" cy="500.3" rx="4.1" ry="3.9" class="A"/>
<ellipse cx="723.7" cy="510.3" rx="4.1" ry="3.9" class="A"/>
<ellipse cx="723.7" cy="520.3" rx="4.1" ry="3.9" class="A"/>
<ellipse cx="723.7" cy="530.4" rx="4.1" ry="3.9" class="A"/>
<ellipse cx="723.7" cy="540.4" rx="4.1" ry="3.9" class="A"/>
<ellipse cx="723.7" cy="570.4" rx="4.1" ry="3.9" class="A"/>
<ellipse cx="723.7" cy="580.5" rx="4.1" ry="3.9" class="A"/>
<ellipse cx="723.7" cy="590.5" rx="4.1" ry="3.9" class="A"/>
<ellipse cx="723.7" cy="610.5" rx="4.1" ry="3.9" class="A"/>
<ellipse cx="733.8" cy="430.2" rx="4.1" ry="3.9" class="A"/>
<ellipse cx="733.8" cy="440.2" rx="4.1" ry="3.9" class="A"/>
<ellipse cx="733.8" cy="450.2" rx="4.1" ry="3.9" class="A"/>
<ellipse cx="733.8" cy="460.2" rx="4.1" ry="3.9" class="A"/>
<ellipse cx="733.8" cy="470.2" rx="4.1" ry="3.9" class="A"/>
<ellipse cx="733.8" cy="490.3" rx="4.1" ry="3.9" class="A"/>
<ellipse cx="733.8" cy="500.3" rx="4.1" ry="3.9" class="A"/>
<ellipse cx="733.8" cy="510.3" rx="4.1" ry="3.9" class="A"/>
<ellipse cx="733.8" cy="520.3" rx="4.1" ry="3.9" class="A"/>
<ellipse cx="733.8" cy="530.4" rx="4.1" ry="3.9" class="A"/>
<ellipse cx="733.8" cy="540.4" rx="4.1" ry="3.9" class="A"/>
<ellipse cx="733.8" cy="570.4" rx="4.1" ry="3.9" class="A"/>
<ellipse cx="733.8" cy="580.5" rx="4.1" ry="3.9" class="A"/>
<ellipse cx="733.8" cy="590.5" rx="4.1" ry="3.9" class="A"/>
<ellipse cx="733.8" cy="600.5" rx="4.1" ry="3.9" class="A"/>
<ellipse cx="733.8" cy="610.5" rx="4.1" ry="3.9" class="A"/>
<ellipse cx="764.3" cy="430.2" rx="4.1" ry="3.9" class="A"/>
<ellipse cx="764.3" cy="440.2" rx="4.1" ry="3.9" class="A"/>
<ellipse cx="764.3" cy="450.2" rx="4.1" ry="3.9" class="A"/>
<ellipse cx="764.3" cy="460.2" rx="4.1" ry="3.9" class="A"/>
<ellipse cx="764.3" cy="470.2" rx="4.1" ry="3.9" class="A"/>
<ellipse cx="764.3" cy="480.3" rx="4.1" ry="3.9" class="A"/>
<ellipse cx="764.3" cy="490.3" rx="4.1" ry="3.9" class="A"/>
<ellipse cx="764.3" cy="500.3" rx="4.1" ry="3.9" class="A"/>
<ellipse cx="764.3" cy="510.3" rx="4.1" ry="3.9" class="A"/>
<ellipse cx="764.3" cy="520.3" rx="4.1" ry="3.9" class="A"/>
<ellipse cx="764.3" cy="530.4" rx="4.1" ry="3.9" class="A"/>
<ellipse cx="764.3" cy="540.4" rx="4.1" ry="3.9" class="A"/>
<ellipse cx="764.3" cy="550.4" rx="4.1" ry="3.9" class="A"/>
<ellipse cx="764.3" cy="570.4" rx="4.1" ry="3.9" class="A"/>
<ellipse cx="764.3" cy="580.5" rx="4.1" ry="3.9" class="A"/>
<ellipse cx="764.3" cy="590.5" rx="4.1" ry="3.9" class="A"/>
<ellipse cx="764.3" cy="600.5" rx="4.1" ry="3.9" class="A"/>
<ellipse cx="764.3" cy="610.5" rx="4.1" ry="3.9" class="A"/>
<ellipse cx="805.7" cy="430.2" rx="4.1" ry="3.9" class="A"/>
<ellipse cx="805.7" cy="440.2" rx="4.1" ry="3.9" class="A"/>
<ellipse cx="805.7" cy="450.2" rx="4.1" ry="3.9" class="A"/>
<ellipse cx="805.7" cy="460.2" rx="4.1" ry="3.9" class="A"/>
<ellipse cx="805.7" cy="470.2" rx="4.1" ry="3.9" class="A"/>
<ellipse cx="805.7" cy="490.3" rx="4.1" ry="3.9" class="A"/>
<ellipse cx="805.7" cy="500.3" rx="4.1" ry="3.9" class="A"/>
<ellipse cx="805.7" cy="510.3" rx="4.1" ry="3.9" class="A"/>
<ellipse cx="805.7" cy="520.3" rx="4.1" ry="3.9" class="A"/>
<ellipse cx="805.7" cy="530.4" rx="4.1" ry="3.9" class="A"/>
<ellipse cx="805.7" cy="540.4" rx="4.1" ry="3.9" class="A"/>
<ellipse cx="805.7" cy="570.4" rx="4.1" ry="3.9" class="A"/>
<ellipse cx="805.7" cy="580.5" rx="4.1" ry="3.9" class="A"/>
<ellipse cx="805.7" cy="590.5" rx="4.1" ry="3.9" class="A"/>
<ellipse cx="805.7" cy="600.5" rx="4.1" ry="3.9" class="A"/>
<ellipse cx="805.7" cy="610.5" rx="4.1" ry="3.9" class="A"/>
<ellipse cx="1012.5" cy="430.2" rx="4.1" ry="3.9" class="A"/>
<ellipse cx="1012.5" cy="440.2" rx="4.1" ry="3.9" class="A"/>
<ellipse cx="1012.5" cy="450.2" rx="4.1" ry="3.9" class="A"/>
<ellipse cx="1012.5" cy="460.2" rx="4.1" ry="3.9" class="A"/>
<ellipse cx="1012.5" cy="470.2" rx="4.1" ry="3.9" class="A"/>
<ellipse cx="1012.5" cy="480.3" rx="4.1" ry="3.9" class="A"/>
<ellipse cx="1012.5" cy="490.3" rx="4.1" ry="3.9" class="A"/>
<ellipse cx="1012.5" cy="500.3" rx="4.1" ry="3.9" class="A"/>
<ellipse cx="1012.5" cy="510.3" rx="4.1" ry="3.9" class="A"/>
<ellipse cx="1012.5" cy="520.3" rx="4.1" ry="3.9" class="A"/>
<ellipse cx="1012.5" cy="530.4" rx="4.1" ry="3.9" class="A"/>
<ellipse cx="1012.5" cy="540.4" rx="4.1" ry="3.9" class="A"/>
<ellipse cx="1012.5" cy="550.4" rx="4.1" ry="3.9" class="A"/>
<ellipse cx="1012.5" cy="570.4" rx="4.1" ry="3.9" class="A"/>
<ellipse cx="1012.5" cy="580.5" rx="4.1" ry="3.9" class="A"/>
<ellipse cx="1012.5" cy="590.5" rx="4.1" ry="3.9" class="A"/>
<ellipse cx="1012.5" cy="600.5" rx="4.1" ry="3.9" class="A"/>
<ellipse cx="1012.5" cy="610.5" rx="4.1" ry="3.9" class="A"/>
<ellipse cx="1040.9" cy="430.2" rx="3.6" ry="3.5" class="A"/>
<ellipse cx="1040.9" cy="440.2" rx="3.6" ry="3.5" class="A"/>
<ellipse cx="1040.9" cy="450.2" rx="3.6" ry="3.5" class="A"/>
<ellipse cx="1040.9" cy="480.3" rx="3.6" ry="3.5" class="A"/>
<ellipse cx="1040.9" cy="490.3" rx="3.6" ry="3.5" class="A"/>
<ellipse cx="1040.9" cy="530.4" rx="3.6" ry="3.5" class="A"/>
<ellipse cx="1040.9" cy="570.4" rx="3.6" ry="3.5" class="A"/>
<ellipse cx="1040.9" cy="510.3" rx="3.2" ry="3.1" class="As"/>
<ellipse cx="1055.3" cy="430.2" rx="4.1" ry="3.9" class="A"/>
<ellipse cx="1055.3" cy="440.2" rx="4.1" ry="3.9" class="A"/>
<ellipse cx="1055.3" cy="450.2" rx="4.1" ry="3.9" class="A"/>
<ellipse cx="1055.3" cy="460.2" rx="4.1" ry="3.9" class="A"/>
<ellipse cx="1055.3" cy="480.3" rx="4.1" ry="3.9" class="A"/>
<ellipse cx="1055.3" cy="500.3" rx="4.1" ry="3.9" class="A"/>
<ellipse cx="1055.3" cy="510.3" rx="4.1" ry="3.9" class="A"/>
<ellipse cx="1055.3" cy="520.3" rx="4.1" ry="3.9" class="A"/>
<ellipse cx="1055.3" cy="530.4" rx="4.1" ry="3.9" class="A"/>
<ellipse cx="1055.3" cy="540.4" rx="4.1" ry="3.9" class="A"/>
<ellipse cx="1055.3" cy="550.4" rx="4.1" ry="3.9" class="A"/>
<ellipse cx="1055.3" cy="570.4" rx="4.1" ry="3.9" class="A"/>
<ellipse cx="1055.3" cy="590.5" rx="4.1" ry="3.9" class="A"/>
<ellipse cx="1055.3" cy="600.5" rx="4.1" ry="3.9" class="A"/>
<ellipse cx="1055.3" cy="610.5" rx="4.1" ry="3.9" class="A"/>
<ellipse cx="1125.7" cy="430.2" rx="4.1" ry="3.9" class="A"/>
<ellipse cx="1125.7" cy="440.2" rx="4.1" ry="3.9" class="A"/>
<ellipse cx="1125.7" cy="450.2" rx="4.1" ry="3.9" class="A"/>
<ellipse cx="1125.7" cy="460.2" rx="4.1" ry="3.9" class="A"/>
<ellipse cx="1125.7" cy="470.2" rx="4.1" ry="3.9" class="A"/>
<ellipse cx="1125.7" cy="480.3" rx="4.1" ry="3.9" class="A"/>
<ellipse cx="1125.7" cy="490.3" rx="4.1" ry="3.9" class="A"/>
<ellipse cx="1125.7" cy="500.3" rx="4.1" ry="3.9" class="A"/>
<ellipse cx="1125.7" cy="510.3" rx="4.1" ry="3.9" class="A"/>
<ellipse cx="1125.7" cy="520.3" rx="4.1" ry="3.9" class="A"/>
<ellipse cx="1125.7" cy="530.4" rx="4.1" ry="3.9" class="A"/>
<ellipse cx="1125.7" cy="540.4" rx="4.1" ry="3.9" class="A"/>
<ellipse cx="1125.7" cy="550.4" rx="4.1" ry="3.9" class="A"/>
<ellipse cx="1125.7" cy="570.4" rx="4.1" ry="3.9" class="A"/>
<ellipse cx="1125.7" cy="580.5" rx="4.1" ry="3.9" class="A"/>
<ellipse cx="1125.7" cy="590.5" rx="4.1" ry="3.9" class="A"/>
<ellipse cx="1125.7" cy="600.5" rx="4.1" ry="3.9" class="A"/>
<ellipse cx="1125.7" cy="610.5" rx="4.1" ry="3.9" class="A"/>
<ellipse cx="1163.5" cy="430.2" rx="5.2" ry="4" class="A"/>
<ellipse cx="1163.5" cy="440.2" rx="5.2" ry="4" class="A"/>
<ellipse cx="1163.5" cy="450.2" rx="5.2" ry="4" class="A"/>
<ellipse cx="1163.5" cy="460.2" rx="5.2" ry="4" class="A"/>
<ellipse cx="1163.5" cy="470.2" rx="5.2" ry="4" class="A"/>
<ellipse cx="1163.5" cy="480.3" rx="5.2" ry="4" class="A"/>
<ellipse cx="1163.5" cy="490.3" rx="5.2" ry="4" class="A"/>
<ellipse cx="1163.5" cy="500.3" rx="5.2" ry="4" class="A"/>
<ellipse cx="1163.5" cy="510.3" rx="5.2" ry="4" class="A"/>
<ellipse cx="1163.5" cy="520.3" rx="5.2" ry="4" class="A"/>
<ellipse cx="1163.5" cy="530.4" rx="5.2" ry="4" class="A"/>
<ellipse cx="1163.5" cy="540.4" rx="5.2" ry="4" class="A"/>
<ellipse cx="1163.5" cy="550.4" rx="5.2" ry="4" class="A"/>
<ellipse cx="1163.5" cy="570.4" rx="5.2" ry="4" class="A"/>
<ellipse cx="1163.5" cy="580.5" rx="5.2" ry="4" class="A"/>
<ellipse cx="1163.5" cy="590.5" rx="5.2" ry="4" class="A"/>
<ellipse cx="1163.5" cy="600.5" rx="5.2" ry="4" class="A"/>
<ellipse cx="1163.5" cy="610.5" rx="5.2" ry="4" class="A"/>
<ellipse cx="1198.1" cy="430.2" rx="4.1" ry="3.9" class="A"/>
<ellipse cx="1198.1" cy="450.2" rx="4.1" ry="3.9" class="A"/>
<ellipse cx="1198.1" cy="510.3" rx="4.1" ry="3.9" class="A"/>
<ellipse cx="1198.1" cy="520.3" rx="4.1" ry="3.9" class="A"/>
<ellipse cx="1198.1" cy="570.4" rx="4.1" ry="3.9" class="A"/>
<ellipse cx="1198.1" cy="440.2" rx="3.6" ry="3.5" class="A"/>
<ellipse cx="1198.1" cy="580.5" rx="3.6" ry="3.5" class="A"/>
<ellipse cx="1198.1" cy="470.2" rx="3.2" ry="3.1" class="As"/>
<ellipse cx="1198.1" cy="490.3" rx="3.2" ry="3.1" class="As"/>
<ellipse cx="1198.1" cy="540.4" rx="3.2" ry="3.1" class="As"/>
<ellipse cx="1198.1" cy="600.5" rx="3.2" ry="3.1" class="As"/>
<ellipse cx="1198.1" cy="610.5" rx="3.2" ry="3.1" class="As"/>
<line x1="99.1" y1="758.1" x2="99.1" y2="1325" class="vm"/>
<line x1="217.1" y1="758.1" x2="217.1" y2="1325" class="vM"/>
<line x1="335.1" y1="758.1" x2="335.1" y2="1325" class="vm"/>
<line x1="453.1" y1="758.1" x2="453.1" y2="1325" class="vM"/>
<line x1="571.1" y1="758.1" x2="571.1" y2="1325" class="vm"/>
<line x1="689.1" y1="758.1" x2="689.1" y2="1325" class="vM"/>
<line x1="807.1" y1="758.1" x2="807.1" y2="1325" class="vm"/>
<line x1="925.1" y1="758.1" x2="925.1" y2="1325" class="vM"/>
<line x1="1043.1" y1="758.1" x2="1043.1" y2="1325" class="vm"/>
<line x1="1161.1" y1="758.1" x2="1161.1" y2="1325" class="vM"/>
<line x1="45.5" y1="765.2" x2="1253" y2="765.2" class="h"/>
<line x1="45.5" y1="777" x2="1253" y2="777" class="h"/>
<line x1="45.5" y1="788.7" x2="1253" y2="788.7" class="h"/>
<line x1="45.5" y1="800.5" x2="1253" y2="800.5" class="h"/>
<line x1="45.5" y1="812.2" x2="1253" y2="812.2" class="h"/>
<line x1="45.5" y1="824" x2="1253" y2="824" class="h"/>
<line x1="45.5" y1="835.8" x2="1253" y2="835.8" class="h"/>
<line x1="45.5" y1="847.5" x2="1253" y2="847.5" class="h"/>
<line x1="45.5" y1="859.3" x2="1253" y2="859.3" class="h"/>
<line x1="45.5" y1="871" x2="1253" y2="871" class="h"/>
<line x1="45.5" y1="882.8" x2="1253" y2="882.8" class="h"/>
<line x1="45.5" y1="894.6" x2="1253" y2="894.6" class="h"/>
<line x1="45.5" y1="906.3" x2="1253" y2="906.3" class="h"/>
<line x1="45.5" y1="918.1" x2="1253" y2="918.1" class="h"/>
<line x1="45.5" y1="929.8" x2="1253" y2="929.8" class="h"/>
<line x1="45.5" y1="941.6" x2="1253" y2="941.6" class="h"/>
<line x1="45.5" y1="953.4" x2="1253" y2="953.4" class="h"/>
<line x1="45.5" y1="965.1" x2="1253" y2="965.1" class="h"/>
<line x1="45.5" y1="976.9" x2="1253" y2="976.9" class="h"/>
<line x1="45.5" y1="988.6" x2="1253" y2="988.6" class="h"/>
<line x1="45.5" y1="1000.4" x2="1253" y2="1000.4" class="h"/>
<line x1="45.5" y1="1012.2" x2="1253" y2="1012.2" class="h"/>
<line x1="45.5" y1="1023.9" x2="1253" y2="1023.9" class="h"/>
<line x1="45.5" y1="1035.7" x2="1253" y2="1035.7" class="h"/>
<line x1="45.5" y1="1047.4" x2="1253" y2="1047.4" class="h"/>
<line x1="45.5" y1="1059.2" x2="1253" y2="1059.2" class="h"/>
<line x1="45.5" y1="1071" x2="1253" y2="1071" class="h"/>
<line x1="45.5" y1="1082.7" x2="1253" y2="1082.7" class="h"/>
<line x1="45.5" y1="1094.5" x2="1253" y2="1094.5" class="h"/>
<line x1="45.5" y1="1106.2" x2="1253" y2="1106.2" class="h"/>
<line x1="45.5" y1="1118" x2="1253" y2="1118" class="h"/>
<line x1="45.5" y1="1129.8" x2="1253" y2="1129.8" class="h"/>
<line x1="45.5" y1="1141.5" x2="1253" y2="1141.5" class="h"/>
<line x1="45.5" y1="1153.3" x2="1253" y2="1153.3" class="h"/>
<line x1="45.5" y1="1165" x2="1253" y2="1165" class="h"/>
<line x1="45.5" y1="1176.8" x2="1253" y2="1176.8" class="h"/>
<line x1="45.5" y1="1188.6" x2="1253" y2="1188.6" class="h"/>
<line x1="45.5" y1="1200.3" x2="1253" y2="1200.3" class="h"/>
<line x1="45.5" y1="1212.1" x2="1253" y2="1212.1" class="h"/>
<line x1="45.5" y1="1223.8" x2="1253" y2="1223.8" class="h"/>
<line x1="45.5" y1="1235.6" x2="1253" y2="1235.6" class="h"/>
<line x1="45.5" y1="1247.4" x2="1253" y2="1247.4" class="h"/>
<line x1="45.5" y1="1259.1" x2="1253" y2="1259.1" class="h"/>
<line x1="45.5" y1="1270.9" x2="1253" y2="1270.9" class="h"/>
<line x1="45.5" y1="1282.6" x2="1253" y2="1282.6" class="h"/>
<line x1="45.5" y1="1294.4" x2="1253" y2="1294.4" class="h"/>
<line x1="45.5" y1="1306.2" x2="1253" y2="1306.2" class="h"/>
<line x1="45.5" y1="1317.9" x2="1253" y2="1317.9" class="h"/>
<text x="217.1" y="1354" class="tk">100</text>
<text x="453.1" y="1354" class="tk">200</text>
<text x="689.1" y="1354" class="tk">300</text>
<text x="925.1" y="1354" class="tk">400</text>
<text x="1161.1" y="1354" class="tk">500</text>
<ellipse cx="138.8" cy="765.2" rx="4.7" ry="4" class="O"/>
<ellipse cx="138.8" cy="777" rx="4.7" ry="4" class="O"/>
<ellipse cx="138.8" cy="788.7" rx="4.7" ry="4" class="O"/>
<ellipse cx="138.8" cy="800.5" rx="4.7" ry="4" class="O"/>
<ellipse cx="138.8" cy="812.2" rx="4.7" ry="4" class="O"/>
<ellipse cx="138.8" cy="824" rx="4.7" ry="4" class="O"/>
<ellipse cx="138.8" cy="835.8" rx="4.7" ry="4" class="O"/>
<ellipse cx="138.8" cy="847.5" rx="4.7" ry="4" class="O"/>
<ellipse cx="138.8" cy="859.3" rx="4.7" ry="4" class="O"/>
<ellipse cx="138.8" cy="871" rx="4.7" ry="4" class="O"/>
<ellipse cx="138.8" cy="882.8" rx="4.7" ry="4" class="O"/>
<ellipse cx="138.8" cy="894.6" rx="4.7" ry="4" class="O"/>
<ellipse cx="138.8" cy="906.3" rx="4.7" ry="4" class="O"/>
<ellipse cx="138.8" cy="918.1" rx="4.7" ry="4" class="O"/>
<ellipse cx="138.8" cy="929.8" rx="4.7" ry="4" class="O"/>
<ellipse cx="138.8" cy="941.6" rx="4.7" ry="4" class="O"/>
<ellipse cx="167.4" cy="859.3" rx="3.2" ry="3.1" class="Os"/>
<ellipse cx="195.4" cy="859.3" rx="4.5" ry="4" class="O"/>
<ellipse cx="212.9" cy="859.3" rx="4.1" ry="3.9" class="O"/>
<ellipse cx="212.9" cy="894.6" rx="3" ry="3" class="O"/>
<ellipse cx="251.7" cy="859.3" rx="4.1" ry="3.9" class="O"/>
<ellipse cx="262" cy="859.3" rx="4.1" ry="3.9" class="O"/>
<ellipse cx="289.5" cy="859.3" rx="4.1" ry="3.9" class="O"/>
<ellipse cx="289.5" cy="847.5" rx="3" ry="3" class="O"/>
<ellipse cx="289.5" cy="929.8" rx="3" ry="3" class="O"/>
<ellipse cx="289.5" cy="894.6" rx="3.2" ry="3.1" class="Os"/>
<ellipse cx="289.5" cy="941.6" rx="3.2" ry="3.1" class="Os"/>
<ellipse cx="333.6" cy="859.3" rx="4.1" ry="3.9" class="O"/>
<ellipse cx="1196.3" cy="859.3" rx="4.1" ry="3.9" class="O"/>
<ellipse cx="138.8" cy="953.4" rx="4.7" ry="4" class="I"/>
<ellipse cx="138.8" cy="965.1" rx="4.7" ry="4" class="I"/>
<ellipse cx="138.8" cy="976.9" rx="4.7" ry="4" class="I"/>
<ellipse cx="138.8" cy="988.6" rx="4.7" ry="4" class="I"/>
<ellipse cx="138.8" cy="1000.4" rx="4.7" ry="4" class="I"/>
<ellipse cx="138.8" cy="1012.2" rx="4.7" ry="4" class="I"/>
<ellipse cx="138.8" cy="1023.9" rx="4.7" ry="4" class="I"/>
<ellipse cx="138.8" cy="1035.7" rx="4.7" ry="4" class="I"/>
<ellipse cx="138.8" cy="1047.4" rx="4.7" ry="4" class="I"/>
<ellipse cx="138.8" cy="1059.2" rx="4.7" ry="4" class="I"/>
<ellipse cx="138.8" cy="1071" rx="4.7" ry="4" class="I"/>
<ellipse cx="138.8" cy="1082.7" rx="4.7" ry="4" class="I"/>
<ellipse cx="138.8" cy="1094.5" rx="4.7" ry="4" class="I"/>
<ellipse cx="138.8" cy="1106.2" rx="4.7" ry="4" class="I"/>
<ellipse cx="167.4" cy="953.4" rx="3.6" ry="3.5" class="I"/>
<ellipse cx="167.4" cy="965.1" rx="3.6" ry="3.5" class="I"/>
<ellipse cx="167.4" cy="976.9" rx="3.6" ry="3.5" class="I"/>
<ellipse cx="167.4" cy="988.6" rx="3.6" ry="3.5" class="I"/>
<ellipse cx="167.4" cy="1000.4" rx="3.6" ry="3.5" class="I"/>
<ellipse cx="167.4" cy="1012.2" rx="3.6" ry="3.5" class="I"/>
<ellipse cx="167.4" cy="1023.9" rx="3.6" ry="3.5" class="I"/>
<ellipse cx="167.4" cy="1035.7" rx="3.6" ry="3.5" class="I"/>
<ellipse cx="167.4" cy="1047.4" rx="3.6" ry="3.5" class="I"/>
<ellipse cx="167.4" cy="1059.2" rx="3.6" ry="3.5" class="I"/>
<ellipse cx="167.4" cy="1071" rx="3.6" ry="3.5" class="I"/>
<ellipse cx="167.4" cy="1082.7" rx="3.6" ry="3.5" class="I"/>
<ellipse cx="167.4" cy="1094.5" rx="3.6" ry="3.5" class="I"/>
<ellipse cx="167.4" cy="1106.2" rx="3.6" ry="3.5" class="I"/>
<ellipse cx="195.4" cy="953.4" rx="4.5" ry="4" class="I"/>
<ellipse cx="195.4" cy="965.1" rx="4.5" ry="4" class="I"/>
<ellipse cx="195.4" cy="976.9" rx="4.5" ry="4" class="I"/>
<ellipse cx="195.4" cy="988.6" rx="4.5" ry="4" class="I"/>
<ellipse cx="195.4" cy="1000.4" rx="4.5" ry="4" class="I"/>
<ellipse cx="195.4" cy="1012.2" rx="4.5" ry="4" class="I"/>
<ellipse cx="195.4" cy="1023.9" rx="4.5" ry="4" class="I"/>
<ellipse cx="195.4" cy="1035.7" rx="4.5" ry="4" class="I"/>
<ellipse cx="195.4" cy="1047.4" rx="4.5" ry="4" class="I"/>
<ellipse cx="195.4" cy="1059.2" rx="4.5" ry="4" class="I"/>
<ellipse cx="195.4" cy="1071" rx="4.5" ry="4" class="I"/>
<ellipse cx="195.4" cy="1082.7" rx="4.5" ry="4" class="I"/>
<ellipse cx="195.4" cy="1094.5" rx="4.5" ry="4" class="I"/>
<ellipse cx="195.4" cy="1106.2" rx="4.5" ry="4" class="I"/>
<ellipse cx="212.9" cy="953.4" rx="4.1" ry="3.9" class="I"/>
<ellipse cx="212.9" cy="965.1" rx="4.1" ry="3.9" class="I"/>
<ellipse cx="212.9" cy="976.9" rx="4.1" ry="3.9" class="I"/>
<ellipse cx="212.9" cy="988.6" rx="4.1" ry="3.9" class="I"/>
<ellipse cx="212.9" cy="1000.4" rx="4.1" ry="3.9" class="I"/>
<ellipse cx="212.9" cy="1012.2" rx="4.1" ry="3.9" class="I"/>
<ellipse cx="212.9" cy="1023.9" rx="4.1" ry="3.9" class="I"/>
<ellipse cx="212.9" cy="1035.7" rx="4.1" ry="3.9" class="I"/>
<ellipse cx="212.9" cy="1047.4" rx="4.1" ry="3.9" class="I"/>
<ellipse cx="212.9" cy="1059.2" rx="4.1" ry="3.9" class="I"/>
<ellipse cx="212.9" cy="1071" rx="4.1" ry="3.9" class="I"/>
<ellipse cx="212.9" cy="1082.7" rx="4.1" ry="3.9" class="I"/>
<ellipse cx="212.9" cy="1094.5" rx="4.1" ry="3.9" class="I"/>
<ellipse cx="212.9" cy="1106.2" rx="4.1" ry="3.9" class="I"/>
<ellipse cx="251.7" cy="953.4" rx="4.1" ry="3.9" class="I"/>
<ellipse cx="251.7" cy="965.1" rx="4.1" ry="3.9" class="I"/>
<ellipse cx="251.7" cy="976.9" rx="4.1" ry="3.9" class="I"/>
<ellipse cx="251.7" cy="1000.4" rx="4.1" ry="3.9" class="I"/>
<ellipse cx="251.7" cy="1012.2" rx="4.1" ry="3.9" class="I"/>
<ellipse cx="251.7" cy="1023.9" rx="4.1" ry="3.9" class="I"/>
<ellipse cx="251.7" cy="1035.7" rx="4.1" ry="3.9" class="I"/>
<ellipse cx="251.7" cy="1047.4" rx="4.1" ry="3.9" class="I"/>
<ellipse cx="251.7" cy="1059.2" rx="4.1" ry="3.9" class="I"/>
<ellipse cx="251.7" cy="1071" rx="4.1" ry="3.9" class="I"/>
<ellipse cx="251.7" cy="1082.7" rx="4.1" ry="3.9" class="I"/>
<ellipse cx="251.7" cy="1094.5" rx="4.1" ry="3.9" class="I"/>
<ellipse cx="251.7" cy="1106.2" rx="4.1" ry="3.9" class="I"/>
<ellipse cx="262" cy="953.4" rx="4.1" ry="3.9" class="I"/>
<ellipse cx="262" cy="965.1" rx="4.1" ry="3.9" class="I"/>
<ellipse cx="262" cy="976.9" rx="4.1" ry="3.9" class="I"/>
<ellipse cx="262" cy="988.6" rx="4.1" ry="3.9" class="I"/>
<ellipse cx="262" cy="1012.2" rx="4.1" ry="3.9" class="I"/>
<ellipse cx="262" cy="1023.9" rx="4.1" ry="3.9" class="I"/>
<ellipse cx="262" cy="1035.7" rx="4.1" ry="3.9" class="I"/>
<ellipse cx="262" cy="1047.4" rx="4.1" ry="3.9" class="I"/>
<ellipse cx="262" cy="1059.2" rx="4.1" ry="3.9" class="I"/>
<ellipse cx="262" cy="1071" rx="4.1" ry="3.9" class="I"/>
<ellipse cx="262" cy="1082.7" rx="4.1" ry="3.9" class="I"/>
<ellipse cx="262" cy="1094.5" rx="4.1" ry="3.9" class="I"/>
<ellipse cx="262" cy="1106.2" rx="4.1" ry="3.9" class="I"/>
<ellipse cx="289.5" cy="953.4" rx="4.1" ry="3.9" class="I"/>
<ellipse cx="289.5" cy="965.1" rx="4.1" ry="3.9" class="I"/>
<ellipse cx="289.5" cy="976.9" rx="4.1" ry="3.9" class="I"/>
<ellipse cx="289.5" cy="988.6" rx="4.1" ry="3.9" class="I"/>
<ellipse cx="289.5" cy="1000.4" rx="4.1" ry="3.9" class="I"/>
<ellipse cx="289.5" cy="1012.2" rx="4.1" ry="3.9" class="I"/>
<ellipse cx="289.5" cy="1023.9" rx="4.1" ry="3.9" class="I"/>
<ellipse cx="289.5" cy="1035.7" rx="4.1" ry="3.9" class="I"/>
<ellipse cx="289.5" cy="1047.4" rx="4.1" ry="3.9" class="I"/>
<ellipse cx="289.5" cy="1059.2" rx="4.1" ry="3.9" class="I"/>
<ellipse cx="289.5" cy="1071" rx="4.1" ry="3.9" class="I"/>
<ellipse cx="289.5" cy="1082.7" rx="4.1" ry="3.9" class="I"/>
<ellipse cx="289.5" cy="1094.5" rx="4.1" ry="3.9" class="I"/>
<ellipse cx="289.5" cy="1106.2" rx="4.1" ry="3.9" class="I"/>
<ellipse cx="333.6" cy="965.1" rx="4.1" ry="3.9" class="I"/>
<ellipse cx="333.6" cy="988.6" rx="4.1" ry="3.9" class="I"/>
<ellipse cx="333.6" cy="1012.2" rx="4.1" ry="3.9" class="I"/>
<ellipse cx="333.6" cy="1023.9" rx="4.1" ry="3.9" class="I"/>
<ellipse cx="333.6" cy="1035.7" rx="4.1" ry="3.9" class="I"/>
<ellipse cx="333.6" cy="1059.2" rx="4.1" ry="3.9" class="I"/>
<ellipse cx="333.6" cy="1082.7" rx="4.1" ry="3.9" class="I"/>
<ellipse cx="333.6" cy="1106.2" rx="4.1" ry="3.9" class="I"/>
<ellipse cx="333.6" cy="953.4" rx="3.6" ry="3.5" class="I"/>
<ellipse cx="333.6" cy="976.9" rx="3.6" ry="3.5" class="I"/>
<ellipse cx="333.6" cy="1094.5" rx="3.6" ry="3.5" class="I"/>
<ellipse cx="333.6" cy="1000.4" rx="3.2" ry="3.1" class="Is"/>
<ellipse cx="333.6" cy="1071" rx="3.2" ry="3.1" class="Is"/>
<ellipse cx="762.1" cy="953.4" rx="4.1" ry="3.9" class="I"/>
<ellipse cx="762.1" cy="965.1" rx="4.1" ry="3.9" class="I"/>
<ellipse cx="762.1" cy="976.9" rx="4.1" ry="3.9" class="I"/>
<ellipse cx="762.1" cy="988.6" rx="4.1" ry="3.9" class="I"/>
<ellipse cx="762.1" cy="1000.4" rx="4.1" ry="3.9" class="I"/>
<ellipse cx="762.1" cy="1012.2" rx="4.1" ry="3.9" class="I"/>
<ellipse cx="762.1" cy="1023.9" rx="4.1" ry="3.9" class="I"/>
<ellipse cx="762.1" cy="1035.7" rx="4.1" ry="3.9" class="I"/>
<ellipse cx="762.1" cy="1047.4" rx="4.1" ry="3.9" class="I"/>
<ellipse cx="762.1" cy="1059.2" rx="4.1" ry="3.9" class="I"/>
<ellipse cx="762.1" cy="1071" rx="4.1" ry="3.9" class="I"/>
<ellipse cx="762.1" cy="1094.5" rx="4.1" ry="3.9" class="I"/>
<ellipse cx="1053.5" cy="1106.2" rx="3.2" ry="3.1" class="Is"/>
<ellipse cx="1124.3" cy="1106.2" rx="3.2" ry="3.1" class="Is"/>
<ellipse cx="1159.5" cy="1071" rx="3.2" ry="3.1" class="Is"/>
<ellipse cx="1196.5" cy="953.4" rx="4.1" ry="3.9" class="I"/>
<ellipse cx="1196.5" cy="965.1" rx="4.1" ry="3.9" class="I"/>
<ellipse cx="1196.5" cy="976.9" rx="4.1" ry="3.9" class="I"/>
<ellipse cx="1196.5" cy="988.6" rx="4.1" ry="3.9" class="I"/>
<ellipse cx="1196.5" cy="1000.4" rx="4.1" ry="3.9" class="I"/>
<ellipse cx="1196.5" cy="1012.2" rx="4.1" ry="3.9" class="I"/>
<ellipse cx="1196.5" cy="1023.9" rx="4.1" ry="3.9" class="I"/>
<ellipse cx="1196.5" cy="1047.4" rx="4.1" ry="3.9" class="I"/>
<ellipse cx="1196.5" cy="1059.2" rx="4.1" ry="3.9" class="I"/>
<ellipse cx="1196.5" cy="1071" rx="4.1" ry="3.9" class="I"/>
<ellipse cx="1196.5" cy="1082.7" rx="4.1" ry="3.9" class="I"/>
<ellipse cx="1196.5" cy="1094.5" rx="4.1" ry="3.9" class="I"/>
<ellipse cx="1196.5" cy="1035.7" rx="3.2" ry="3.1" class="Is"/>
<ellipse cx="1196.5" cy="1106.2" rx="3.2" ry="3.1" class="Is"/>
<ellipse cx="100.2" cy="1176.8" rx="3.2" ry="3.1" class="As"/>
<ellipse cx="138.8" cy="1118" rx="4.7" ry="4" class="A"/>
<ellipse cx="138.8" cy="1129.8" rx="4.7" ry="4" class="A"/>
<ellipse cx="138.8" cy="1141.5" rx="4.7" ry="4" class="A"/>
<ellipse cx="138.8" cy="1153.3" rx="4.7" ry="4" class="A"/>
<ellipse cx="138.8" cy="1165" rx="4.7" ry="4" class="A"/>
<ellipse cx="138.8" cy="1176.8" rx="4.7" ry="4" class="A"/>
<ellipse cx="138.8" cy="1188.6" rx="4.7" ry="4" class="A"/>
<ellipse cx="138.8" cy="1200.3" rx="4.7" ry="4" class="A"/>
<ellipse cx="138.8" cy="1212.1" rx="4.7" ry="4" class="A"/>
<ellipse cx="138.8" cy="1223.8" rx="4.7" ry="4" class="A"/>
<ellipse cx="138.8" cy="1235.6" rx="4.7" ry="4" class="A"/>
<ellipse cx="138.8" cy="1247.4" rx="4.7" ry="4" class="A"/>
<ellipse cx="138.8" cy="1259.1" rx="4.7" ry="4" class="A"/>
<ellipse cx="138.8" cy="1270.9" rx="4.7" ry="4" class="A"/>
<ellipse cx="138.8" cy="1282.6" rx="4.7" ry="4" class="A"/>
<ellipse cx="138.8" cy="1294.4" rx="4.7" ry="4" class="A"/>
<ellipse cx="138.8" cy="1306.2" rx="4.7" ry="4" class="A"/>
<ellipse cx="138.8" cy="1317.9" rx="4.7" ry="4" class="A"/>
<ellipse cx="167.4" cy="1118" rx="4.1" ry="3.9" class="A"/>
<ellipse cx="167.4" cy="1129.8" rx="4.1" ry="3.9" class="A"/>
<ellipse cx="167.4" cy="1141.5" rx="4.1" ry="3.9" class="A"/>
<ellipse cx="167.4" cy="1153.3" rx="4.1" ry="3.9" class="A"/>
<ellipse cx="167.4" cy="1165" rx="4.1" ry="3.9" class="A"/>
<ellipse cx="167.4" cy="1176.8" rx="4.1" ry="3.9" class="A"/>
<ellipse cx="167.4" cy="1188.6" rx="4.1" ry="3.9" class="A"/>
<ellipse cx="167.4" cy="1200.3" rx="4.1" ry="3.9" class="A"/>
<ellipse cx="167.4" cy="1212.1" rx="4.1" ry="3.9" class="A"/>
<ellipse cx="167.4" cy="1223.8" rx="4.1" ry="3.9" class="A"/>
<ellipse cx="167.4" cy="1235.6" rx="4.1" ry="3.9" class="A"/>
<ellipse cx="167.4" cy="1247.4" rx="4.1" ry="3.9" class="A"/>
<ellipse cx="167.4" cy="1259.1" rx="4.1" ry="3.9" class="A"/>
<ellipse cx="167.4" cy="1270.9" rx="4.1" ry="3.9" class="A"/>
<ellipse cx="167.4" cy="1282.6" rx="4.1" ry="3.9" class="A"/>
<ellipse cx="167.4" cy="1294.4" rx="4.1" ry="3.9" class="A"/>
<ellipse cx="167.4" cy="1306.2" rx="4.1" ry="3.9" class="A"/>
<ellipse cx="167.4" cy="1317.9" rx="4.1" ry="3.9" class="A"/>
<ellipse cx="195.4" cy="1118" rx="4.5" ry="4" class="A"/>
<ellipse cx="195.4" cy="1129.8" rx="4.5" ry="4" class="A"/>
<ellipse cx="195.4" cy="1141.5" rx="4.5" ry="4" class="A"/>
<ellipse cx="195.4" cy="1153.3" rx="4.5" ry="4" class="A"/>
<ellipse cx="195.4" cy="1165" rx="4.5" ry="4" class="A"/>
<ellipse cx="195.4" cy="1176.8" rx="4.5" ry="4" class="A"/>
<ellipse cx="195.4" cy="1188.6" rx="4.5" ry="4" class="A"/>
<ellipse cx="195.4" cy="1200.3" rx="4.5" ry="4" class="A"/>
<ellipse cx="195.4" cy="1212.1" rx="4.5" ry="4" class="A"/>
<ellipse cx="195.4" cy="1223.8" rx="4.5" ry="4" class="A"/>
<ellipse cx="195.4" cy="1235.6" rx="4.5" ry="4" class="A"/>
<ellipse cx="195.4" cy="1247.4" rx="4.5" ry="4" class="A"/>
<ellipse cx="195.4" cy="1259.1" rx="4.5" ry="4" class="A"/>
<ellipse cx="195.4" cy="1270.9" rx="4.5" ry="4" class="A"/>
<ellipse cx="195.4" cy="1282.6" rx="4.5" ry="4" class="A"/>
<ellipse cx="195.4" cy="1294.4" rx="4.5" ry="4" class="A"/>
<ellipse cx="195.4" cy="1306.2" rx="4.5" ry="4" class="A"/>
<ellipse cx="195.4" cy="1317.9" rx="4.5" ry="4" class="A"/>
<ellipse cx="212.9" cy="1118" rx="4.1" ry="3.9" class="A"/>
<ellipse cx="212.9" cy="1129.8" rx="4.1" ry="3.9" class="A"/>
<ellipse cx="212.9" cy="1141.5" rx="4.1" ry="3.9" class="A"/>
<ellipse cx="212.9" cy="1153.3" rx="4.1" ry="3.9" class="A"/>
<ellipse cx="212.9" cy="1165" rx="4.1" ry="3.9" class="A"/>
<ellipse cx="212.9" cy="1176.8" rx="4.1" ry="3.9" class="A"/>
<ellipse cx="212.9" cy="1188.6" rx="4.1" ry="3.9" class="A"/>
<ellipse cx="212.9" cy="1200.3" rx="4.1" ry="3.9" class="A"/>
<ellipse cx="212.9" cy="1212.1" rx="4.1" ry="3.9" class="A"/>
<ellipse cx="212.9" cy="1223.8" rx="4.1" ry="3.9" class="A"/>
<ellipse cx="212.9" cy="1235.6" rx="4.1" ry="3.9" class="A"/>
<ellipse cx="212.9" cy="1247.4" rx="4.1" ry="3.9" class="A"/>
<ellipse cx="212.9" cy="1259.1" rx="4.1" ry="3.9" class="A"/>
<ellipse cx="212.9" cy="1270.9" rx="4.1" ry="3.9" class="A"/>
<ellipse cx="212.9" cy="1282.6" rx="4.1" ry="3.9" class="A"/>
<ellipse cx="212.9" cy="1294.4" rx="4.1" ry="3.9" class="A"/>
<ellipse cx="212.9" cy="1306.2" rx="4.1" ry="3.9" class="A"/>
<ellipse cx="212.9" cy="1317.9" rx="4.1" ry="3.9" class="A"/>
<ellipse cx="223.2" cy="1141.5" rx="3.6" ry="3.5" class="A"/>
<ellipse cx="223.2" cy="1129.8" rx="3.2" ry="3.1" class="As"/>
<ellipse cx="223.2" cy="1259.1" rx="3.2" ry="3.1" class="As"/>
<ellipse cx="223.2" cy="1270.9" rx="3.2" ry="3.1" class="As"/>
<ellipse cx="251.7" cy="1118" rx="4.1" ry="3.9" class="A"/>
<ellipse cx="251.7" cy="1129.8" rx="4.1" ry="3.9" class="A"/>
<ellipse cx="251.7" cy="1141.5" rx="4.1" ry="3.9" class="A"/>
<ellipse cx="251.7" cy="1153.3" rx="4.1" ry="3.9" class="A"/>
<ellipse cx="251.7" cy="1165" rx="4.1" ry="3.9" class="A"/>
<ellipse cx="251.7" cy="1188.6" rx="4.1" ry="3.9" class="A"/>
<ellipse cx="251.7" cy="1200.3" rx="4.1" ry="3.9" class="A"/>
<ellipse cx="251.7" cy="1223.8" rx="4.1" ry="3.9" class="A"/>
<ellipse cx="251.7" cy="1235.6" rx="4.1" ry="3.9" class="A"/>
<ellipse cx="251.7" cy="1247.4" rx="4.1" ry="3.9" class="A"/>
<ellipse cx="251.7" cy="1259.1" rx="4.1" ry="3.9" class="A"/>
<ellipse cx="251.7" cy="1270.9" rx="4.1" ry="3.9" class="A"/>
<ellipse cx="251.7" cy="1282.6" rx="4.1" ry="3.9" class="A"/>
<ellipse cx="251.7" cy="1294.4" rx="4.1" ry="3.9" class="A"/>
<ellipse cx="251.7" cy="1306.2" rx="4.1" ry="3.9" class="A"/>
<ellipse cx="251.7" cy="1176.8" rx="3.2" ry="3.1" class="As"/>
<ellipse cx="262" cy="1118" rx="4.1" ry="3.9" class="A"/>
<ellipse cx="262" cy="1129.8" rx="4.1" ry="3.9" class="A"/>
<ellipse cx="262" cy="1141.5" rx="4.1" ry="3.9" class="A"/>
<ellipse cx="262" cy="1153.3" rx="4.1" ry="3.9" class="A"/>
<ellipse cx="262" cy="1165" rx="4.1" ry="3.9" class="A"/>
<ellipse cx="262" cy="1176.8" rx="4.1" ry="3.9" class="A"/>
<ellipse cx="262" cy="1188.6" rx="4.1" ry="3.9" class="A"/>
<ellipse cx="262" cy="1200.3" rx="4.1" ry="3.9" class="A"/>
<ellipse cx="262" cy="1212.1" rx="4.1" ry="3.9" class="A"/>
<ellipse cx="262" cy="1223.8" rx="4.1" ry="3.9" class="A"/>
<ellipse cx="262" cy="1235.6" rx="4.1" ry="3.9" class="A"/>
<ellipse cx="262" cy="1247.4" rx="4.1" ry="3.9" class="A"/>
<ellipse cx="262" cy="1259.1" rx="4.1" ry="3.9" class="A"/>
<ellipse cx="262" cy="1270.9" rx="4.1" ry="3.9" class="A"/>
<ellipse cx="262" cy="1282.6" rx="4.1" ry="3.9" class="A"/>
<ellipse cx="262" cy="1294.4" rx="4.1" ry="3.9" class="A"/>
<ellipse cx="262" cy="1306.2" rx="4.1" ry="3.9" class="A"/>
<ellipse cx="262" cy="1317.9" rx="4.1" ry="3.9" class="A"/>
<ellipse cx="296.5" cy="1118" rx="3.6" ry="3.5" class="A"/>
<ellipse cx="296.5" cy="1141.5" rx="3.6" ry="3.5" class="A"/>
<ellipse cx="296.5" cy="1259.1" rx="3.6" ry="3.5" class="A"/>
<ellipse cx="296.5" cy="1129.8" rx="3.2" ry="3.1" class="As"/>
<ellipse cx="296.5" cy="1200.3" rx="3.2" ry="3.1" class="As"/>
<ellipse cx="296.5" cy="1212.1" rx="3.2" ry="3.1" class="As"/>
<ellipse cx="296.5" cy="1247.4" rx="3.2" ry="3.1" class="As"/>
<ellipse cx="289.5" cy="1118" rx="4.1" ry="3.9" class="A"/>
<ellipse cx="289.5" cy="1129.8" rx="4.1" ry="3.9" class="A"/>
<ellipse cx="289.5" cy="1141.5" rx="4.1" ry="3.9" class="A"/>
<ellipse cx="289.5" cy="1153.3" rx="4.1" ry="3.9" class="A"/>
<ellipse cx="289.5" cy="1165" rx="4.1" ry="3.9" class="A"/>
<ellipse cx="289.5" cy="1176.8" rx="4.1" ry="3.9" class="A"/>
<ellipse cx="289.5" cy="1188.6" rx="4.1" ry="3.9" class="A"/>
<ellipse cx="289.5" cy="1200.3" rx="4.1" ry="3.9" class="A"/>
<ellipse cx="289.5" cy="1212.1" rx="4.1" ry="3.9" class="A"/>
<ellipse cx="289.5" cy="1223.8" rx="4.1" ry="3.9" class="A"/>
<ellipse cx="289.5" cy="1235.6" rx="4.1" ry="3.9" class="A"/>
<ellipse cx="289.5" cy="1247.4" rx="4.1" ry="3.9" class="A"/>
<ellipse cx="289.5" cy="1259.1" rx="4.1" ry="3.9" class="A"/>
<ellipse cx="289.5" cy="1270.9" rx="4.1" ry="3.9" class="A"/>
<ellipse cx="289.5" cy="1282.6" rx="4.1" ry="3.9" class="A"/>
<ellipse cx="289.5" cy="1294.4" rx="4.1" ry="3.9" class="A"/>
<ellipse cx="289.5" cy="1306.2" rx="4.1" ry="3.9" class="A"/>
<ellipse cx="289.5" cy="1317.9" rx="4.1" ry="3.9" class="A"/>
<ellipse cx="333.6" cy="1118" rx="4.5" ry="4" class="A"/>
<ellipse cx="333.6" cy="1129.8" rx="4.5" ry="4" class="A"/>
<ellipse cx="333.6" cy="1141.5" rx="4.5" ry="4" class="A"/>
<ellipse cx="333.6" cy="1153.3" rx="4.5" ry="4" class="A"/>
<ellipse cx="333.6" cy="1165" rx="4.5" ry="4" class="A"/>
<ellipse cx="333.6" cy="1176.8" rx="4.5" ry="4" class="A"/>
<ellipse cx="333.6" cy="1188.6" rx="4.5" ry="4" class="A"/>
<ellipse cx="333.6" cy="1200.3" rx="4.5" ry="4" class="A"/>
<ellipse cx="333.6" cy="1212.1" rx="4.5" ry="4" class="A"/>
<ellipse cx="333.6" cy="1223.8" rx="4.5" ry="4" class="A"/>
<ellipse cx="333.6" cy="1235.6" rx="4.5" ry="4" class="A"/>
<ellipse cx="333.6" cy="1247.4" rx="4.5" ry="4" class="A"/>
<ellipse cx="333.6" cy="1259.1" rx="4.5" ry="4" class="A"/>
<ellipse cx="333.6" cy="1270.9" rx="4.5" ry="4" class="A"/>
<ellipse cx="333.6" cy="1282.6" rx="4.5" ry="4" class="A"/>
<ellipse cx="333.6" cy="1294.4" rx="4.5" ry="4" class="A"/>
<ellipse cx="333.6" cy="1306.2" rx="4.5" ry="4" class="A"/>
<ellipse cx="333.6" cy="1317.9" rx="4.5" ry="4" class="A"/>
<ellipse cx="563.1" cy="1118" rx="4.5" ry="4" class="A"/>
<ellipse cx="563.1" cy="1129.8" rx="4.5" ry="4" class="A"/>
<ellipse cx="563.1" cy="1141.5" rx="4.5" ry="4" class="A"/>
<ellipse cx="563.1" cy="1153.3" rx="4.5" ry="4" class="A"/>
<ellipse cx="563.1" cy="1165" rx="4.5" ry="4" class="A"/>
<ellipse cx="563.1" cy="1176.8" rx="4.5" ry="4" class="A"/>
<ellipse cx="563.1" cy="1188.6" rx="4.5" ry="4" class="A"/>
<ellipse cx="563.1" cy="1200.3" rx="4.5" ry="4" class="A"/>
<ellipse cx="563.1" cy="1212.1" rx="4.5" ry="4" class="A"/>
<ellipse cx="563.1" cy="1223.8" rx="4.5" ry="4" class="A"/>
<ellipse cx="563.1" cy="1235.6" rx="4.5" ry="4" class="A"/>
<ellipse cx="563.1" cy="1247.4" rx="4.5" ry="4" class="A"/>
<ellipse cx="563.1" cy="1259.1" rx="4.5" ry="4" class="A"/>
<ellipse cx="563.1" cy="1270.9" rx="4.5" ry="4" class="A"/>
<ellipse cx="563.1" cy="1282.6" rx="4.5" ry="4" class="A"/>
<ellipse cx="563.1" cy="1294.4" rx="4.5" ry="4" class="A"/>
<ellipse cx="563.1" cy="1306.2" rx="4.5" ry="4" class="A"/>
<ellipse cx="563.1" cy="1317.9" rx="4.5" ry="4" class="A"/>
<ellipse cx="593.2" cy="1118" rx="4.1" ry="3.9" class="A"/>
<ellipse cx="593.2" cy="1141.5" rx="4.1" ry="3.9" class="A"/>
<ellipse cx="593.2" cy="1165" rx="3.6" ry="3.5" class="A"/>
<ellipse cx="593.2" cy="1188.6" rx="3.6" ry="3.5" class="A"/>
<ellipse cx="593.2" cy="1223.8" rx="3.6" ry="3.5" class="A"/>
<ellipse cx="593.2" cy="1235.6" rx="3.6" ry="3.5" class="A"/>
<ellipse cx="593.2" cy="1270.9" rx="3.6" ry="3.5" class="A"/>
<ellipse cx="593.2" cy="1282.6" rx="3.6" ry="3.5" class="A"/>
<ellipse cx="593.2" cy="1129.8" rx="3.2" ry="3.1" class="As"/>
<ellipse cx="593.2" cy="1153.3" rx="3.2" ry="3.1" class="As"/>
<ellipse cx="593.2" cy="1247.4" rx="3.2" ry="3.1" class="As"/>
<ellipse cx="593.2" cy="1259.1" rx="3.2" ry="3.1" class="As"/>
<ellipse cx="593.2" cy="1306.2" rx="3.2" ry="3.1" class="As"/>
<ellipse cx="652.5" cy="1118" rx="4.1" ry="3.9" class="A"/>
<ellipse cx="652.5" cy="1129.8" rx="4.1" ry="3.9" class="A"/>
<ellipse cx="652.5" cy="1141.5" rx="4.1" ry="3.9" class="A"/>
<ellipse cx="652.5" cy="1153.3" rx="4.1" ry="3.9" class="A"/>
<ellipse cx="652.5" cy="1165" rx="4.1" ry="3.9" class="A"/>
<ellipse cx="652.5" cy="1176.8" rx="4.1" ry="3.9" class="A"/>
<ellipse cx="652.5" cy="1188.6" rx="4.1" ry="3.9" class="A"/>
<ellipse cx="652.5" cy="1200.3" rx="4.1" ry="3.9" class="A"/>
<ellipse cx="652.5" cy="1212.1" rx="4.1" ry="3.9" class="A"/>
<ellipse cx="652.5" cy="1223.8" rx="4.1" ry="3.9" class="A"/>
<ellipse cx="652.5" cy="1235.6" rx="4.1" ry="3.9" class="A"/>
<ellipse cx="652.5" cy="1247.4" rx="4.1" ry="3.9" class="A"/>
<ellipse cx="652.5" cy="1259.1" rx="4.1" ry="3.9" class="A"/>
<ellipse cx="652.5" cy="1270.9" rx="4.1" ry="3.9" class="A"/>
<ellipse cx="652.5" cy="1282.6" rx="4.1" ry="3.9" class="A"/>
<ellipse cx="652.5" cy="1294.4" rx="4.1" ry="3.9" class="A"/>
<ellipse cx="652.5" cy="1306.2" rx="4.1" ry="3.9" class="A"/>
<ellipse cx="652.5" cy="1317.9" rx="4.1" ry="3.9" class="A"/>
<ellipse cx="721.3" cy="1118" rx="4.1" ry="3.9" class="A"/>
<ellipse cx="721.3" cy="1129.8" rx="4.1" ry="3.9" class="A"/>
<ellipse cx="721.3" cy="1141.5" rx="4.1" ry="3.9" class="A"/>
<ellipse cx="721.3" cy="1153.3" rx="4.1" ry="3.9" class="A"/>
<ellipse cx="721.3" cy="1165" rx="4.1" ry="3.9" class="A"/>
<ellipse cx="721.3" cy="1188.6" rx="4.1" ry="3.9" class="A"/>
<ellipse cx="721.3" cy="1200.3" rx="4.1" ry="3.9" class="A"/>
<ellipse cx="721.3" cy="1212.1" rx="4.1" ry="3.9" class="A"/>
<ellipse cx="721.3" cy="1223.8" rx="4.1" ry="3.9" class="A"/>
<ellipse cx="721.3" cy="1235.6" rx="4.1" ry="3.9" class="A"/>
<ellipse cx="721.3" cy="1247.4" rx="4.1" ry="3.9" class="A"/>
<ellipse cx="721.3" cy="1270.9" rx="4.1" ry="3.9" class="A"/>
<ellipse cx="721.3" cy="1282.6" rx="4.1" ry="3.9" class="A"/>
<ellipse cx="721.3" cy="1294.4" rx="4.1" ry="3.9" class="A"/>
<ellipse cx="721.3" cy="1306.2" rx="4.1" ry="3.9" class="A"/>
<ellipse cx="721.3" cy="1317.9" rx="4.1" ry="3.9" class="A"/>
<ellipse cx="731.6" cy="1118" rx="4.1" ry="3.9" class="A"/>
<ellipse cx="731.6" cy="1129.8" rx="4.1" ry="3.9" class="A"/>
<ellipse cx="731.6" cy="1141.5" rx="4.1" ry="3.9" class="A"/>
<ellipse cx="731.6" cy="1153.3" rx="4.1" ry="3.9" class="A"/>
<ellipse cx="731.6" cy="1188.6" rx="4.1" ry="3.9" class="A"/>
<ellipse cx="731.6" cy="1200.3" rx="4.1" ry="3.9" class="A"/>
<ellipse cx="731.6" cy="1212.1" rx="4.1" ry="3.9" class="A"/>
<ellipse cx="731.6" cy="1223.8" rx="4.1" ry="3.9" class="A"/>
<ellipse cx="731.6" cy="1235.6" rx="4.1" ry="3.9" class="A"/>
<ellipse cx="731.6" cy="1247.4" rx="4.1" ry="3.9" class="A"/>
<ellipse cx="731.6" cy="1270.9" rx="4.1" ry="3.9" class="A"/>
<ellipse cx="731.6" cy="1282.6" rx="4.1" ry="3.9" class="A"/>
<ellipse cx="731.6" cy="1294.4" rx="4.1" ry="3.9" class="A"/>
<ellipse cx="731.6" cy="1306.2" rx="4.1" ry="3.9" class="A"/>
<ellipse cx="731.6" cy="1317.9" rx="4.1" ry="3.9" class="A"/>
<ellipse cx="731.6" cy="1165" rx="3.2" ry="3.1" class="As"/>
<ellipse cx="762.4" cy="1118" rx="4.1" ry="3.9" class="A"/>
<ellipse cx="762.4" cy="1129.8" rx="4.1" ry="3.9" class="A"/>
<ellipse cx="762.4" cy="1141.5" rx="4.1" ry="3.9" class="A"/>
<ellipse cx="762.4" cy="1153.3" rx="4.1" ry="3.9" class="A"/>
<ellipse cx="762.4" cy="1165" rx="4.1" ry="3.9" class="A"/>
<ellipse cx="762.4" cy="1176.8" rx="4.1" ry="3.9" class="A"/>
<ellipse cx="762.4" cy="1188.6" rx="4.1" ry="3.9" class="A"/>
<ellipse cx="762.4" cy="1200.3" rx="4.1" ry="3.9" class="A"/>
<ellipse cx="762.4" cy="1212.1" rx="4.1" ry="3.9" class="A"/>
<ellipse cx="762.4" cy="1223.8" rx="4.1" ry="3.9" class="A"/>
<ellipse cx="762.4" cy="1235.6" rx="4.1" ry="3.9" class="A"/>
<ellipse cx="762.4" cy="1247.4" rx="4.1" ry="3.9" class="A"/>
<ellipse cx="762.4" cy="1259.1" rx="4.1" ry="3.9" class="A"/>
<ellipse cx="762.4" cy="1270.9" rx="4.1" ry="3.9" class="A"/>
<ellipse cx="762.4" cy="1282.6" rx="4.1" ry="3.9" class="A"/>
<ellipse cx="762.4" cy="1294.4" rx="4.1" ry="3.9" class="A"/>
<ellipse cx="762.4" cy="1306.2" rx="4.1" ry="3.9" class="A"/>
<ellipse cx="762.4" cy="1317.9" rx="4.1" ry="3.9" class="A"/>
<ellipse cx="804" cy="1118" rx="4.1" ry="3.9" class="A"/>
<ellipse cx="804" cy="1129.8" rx="4.1" ry="3.9" class="A"/>
<ellipse cx="804" cy="1141.5" rx="4.1" ry="3.9" class="A"/>
<ellipse cx="804" cy="1153.3" rx="4.1" ry="3.9" class="A"/>
<ellipse cx="804" cy="1165" rx="4.1" ry="3.9" class="A"/>
<ellipse cx="804" cy="1188.6" rx="4.1" ry="3.9" class="A"/>
<ellipse cx="804" cy="1200.3" rx="4.1" ry="3.9" class="A"/>
<ellipse cx="804" cy="1212.1" rx="4.1" ry="3.9" class="A"/>
<ellipse cx="804" cy="1223.8" rx="4.1" ry="3.9" class="A"/>
<ellipse cx="804" cy="1235.6" rx="4.1" ry="3.9" class="A"/>
<ellipse cx="804" cy="1247.4" rx="4.1" ry="3.9" class="A"/>
<ellipse cx="804" cy="1270.9" rx="4.1" ry="3.9" class="A"/>
<ellipse cx="804" cy="1282.6" rx="4.1" ry="3.9" class="A"/>
<ellipse cx="804" cy="1294.4" rx="4.1" ry="3.9" class="A"/>
<ellipse cx="804" cy="1306.2" rx="4.1" ry="3.9" class="A"/>
<ellipse cx="804" cy="1317.9" rx="4.1" ry="3.9" class="A"/>
<ellipse cx="1011.4" cy="1118" rx="4.1" ry="3.9" class="A"/>
<ellipse cx="1011.4" cy="1129.8" rx="4.1" ry="3.9" class="A"/>
<ellipse cx="1011.4" cy="1141.5" rx="4.1" ry="3.9" class="A"/>
<ellipse cx="1011.4" cy="1153.3" rx="4.1" ry="3.9" class="A"/>
<ellipse cx="1011.4" cy="1165" rx="4.1" ry="3.9" class="A"/>
<ellipse cx="1011.4" cy="1176.8" rx="4.1" ry="3.9" class="A"/>
<ellipse cx="1011.4" cy="1188.6" rx="4.1" ry="3.9" class="A"/>
<ellipse cx="1011.4" cy="1200.3" rx="4.1" ry="3.9" class="A"/>
<ellipse cx="1011.4" cy="1212.1" rx="4.1" ry="3.9" class="A"/>
<ellipse cx="1011.4" cy="1223.8" rx="4.1" ry="3.9" class="A"/>
<ellipse cx="1011.4" cy="1235.6" rx="4.1" ry="3.9" class="A"/>
<ellipse cx="1011.4" cy="1247.4" rx="4.1" ry="3.9" class="A"/>
<ellipse cx="1011.4" cy="1259.1" rx="4.1" ry="3.9" class="A"/>
<ellipse cx="1011.4" cy="1270.9" rx="4.1" ry="3.9" class="A"/>
<ellipse cx="1011.4" cy="1282.6" rx="4.1" ry="3.9" class="A"/>
<ellipse cx="1011.4" cy="1294.4" rx="4.1" ry="3.9" class="A"/>
<ellipse cx="1011.4" cy="1306.2" rx="4.1" ry="3.9" class="A"/>
<ellipse cx="1011.4" cy="1317.9" rx="4.1" ry="3.9" class="A"/>
<ellipse cx="1053.5" cy="1118" rx="4.1" ry="3.9" class="A"/>
<ellipse cx="1053.5" cy="1129.8" rx="4.1" ry="3.9" class="A"/>
<ellipse cx="1053.5" cy="1141.5" rx="4.1" ry="3.9" class="A"/>
<ellipse cx="1053.5" cy="1153.3" rx="4.1" ry="3.9" class="A"/>
<ellipse cx="1053.5" cy="1165" rx="4.1" ry="3.9" class="A"/>
<ellipse cx="1053.5" cy="1176.8" rx="4.1" ry="3.9" class="A"/>
<ellipse cx="1053.5" cy="1188.6" rx="4.1" ry="3.9" class="A"/>
<ellipse cx="1053.5" cy="1200.3" rx="4.1" ry="3.9" class="A"/>
<ellipse cx="1053.5" cy="1212.1" rx="4.1" ry="3.9" class="A"/>
<ellipse cx="1053.5" cy="1223.8" rx="4.1" ry="3.9" class="A"/>
<ellipse cx="1053.5" cy="1235.6" rx="4.1" ry="3.9" class="A"/>
<ellipse cx="1053.5" cy="1247.4" rx="4.1" ry="3.9" class="A"/>
<ellipse cx="1053.5" cy="1259.1" rx="4.1" ry="3.9" class="A"/>
<ellipse cx="1053.5" cy="1270.9" rx="4.1" ry="3.9" class="A"/>
<ellipse cx="1053.5" cy="1282.6" rx="4.1" ry="3.9" class="A"/>
<ellipse cx="1053.5" cy="1294.4" rx="4.1" ry="3.9" class="A"/>
<ellipse cx="1053.5" cy="1306.2" rx="4.1" ry="3.9" class="A"/>
<ellipse cx="1053.5" cy="1317.9" rx="4.1" ry="3.9" class="A"/>
<ellipse cx="1124.3" cy="1118" rx="4.5" ry="4" class="A"/>
<ellipse cx="1124.3" cy="1129.8" rx="4.5" ry="4" class="A"/>
<ellipse cx="1124.3" cy="1141.5" rx="4.5" ry="4" class="A"/>
<ellipse cx="1124.3" cy="1153.3" rx="4.5" ry="4" class="A"/>
<ellipse cx="1124.3" cy="1165" rx="4.5" ry="4" class="A"/>
<ellipse cx="1124.3" cy="1176.8" rx="4.5" ry="4" class="A"/>
<ellipse cx="1124.3" cy="1188.6" rx="4.5" ry="4" class="A"/>
<ellipse cx="1124.3" cy="1200.3" rx="4.5" ry="4" class="A"/>
<ellipse cx="1124.3" cy="1212.1" rx="4.5" ry="4" class="A"/>
<ellipse cx="1124.3" cy="1223.8" rx="4.5" ry="4" class="A"/>
<ellipse cx="1124.3" cy="1235.6" rx="4.5" ry="4" class="A"/>
<ellipse cx="1124.3" cy="1247.4" rx="4.5" ry="4" class="A"/>
<ellipse cx="1124.3" cy="1259.1" rx="4.5" ry="4" class="A"/>
<ellipse cx="1124.3" cy="1270.9" rx="4.5" ry="4" class="A"/>
<ellipse cx="1124.3" cy="1282.6" rx="4.5" ry="4" class="A"/>
<ellipse cx="1124.3" cy="1294.4" rx="4.5" ry="4" class="A"/>
<ellipse cx="1124.3" cy="1306.2" rx="4.5" ry="4" class="A"/>
<ellipse cx="1124.3" cy="1317.9" rx="4.5" ry="4" class="A"/>
<ellipse cx="1161.9" cy="1118" rx="5.7" ry="4" class="A"/>
<ellipse cx="1161.9" cy="1129.8" rx="5.7" ry="4" class="A"/>
<ellipse cx="1161.9" cy="1141.5" rx="5.7" ry="4" class="A"/>
<ellipse cx="1161.9" cy="1153.3" rx="5.7" ry="4" class="A"/>
<ellipse cx="1161.9" cy="1165" rx="5.7" ry="4" class="A"/>
<ellipse cx="1161.9" cy="1176.8" rx="5.7" ry="4" class="A"/>
<ellipse cx="1161.9" cy="1188.6" rx="5.7" ry="4" class="A"/>
<ellipse cx="1161.9" cy="1200.3" rx="5.7" ry="4" class="A"/>
<ellipse cx="1161.9" cy="1212.1" rx="5.7" ry="4" class="A"/>
<ellipse cx="1161.9" cy="1223.8" rx="5.7" ry="4" class="A"/>
<ellipse cx="1161.9" cy="1235.6" rx="5.7" ry="4" class="A"/>
<ellipse cx="1161.9" cy="1247.4" rx="5.7" ry="4" class="A"/>
<ellipse cx="1161.9" cy="1259.1" rx="5.7" ry="4" class="A"/>
<ellipse cx="1161.9" cy="1270.9" rx="5.7" ry="4" class="A"/>
<ellipse cx="1161.9" cy="1282.6" rx="5.7" ry="4" class="A"/>
<ellipse cx="1161.9" cy="1294.4" rx="5.7" ry="4" class="A"/>
<ellipse cx="1161.9" cy="1306.2" rx="5.7" ry="4" class="A"/>
<ellipse cx="1161.9" cy="1317.9" rx="5.7" ry="4" class="A"/>
<ellipse cx="1197" cy="1118" rx="4.1" ry="3.9" class="A"/>
<ellipse cx="1197" cy="1129.8" rx="4.1" ry="3.9" class="A"/>
<ellipse cx="1197" cy="1141.5" rx="4.1" ry="3.9" class="A"/>
<ellipse cx="1197" cy="1153.3" rx="4.1" ry="3.9" class="A"/>
<ellipse cx="1197" cy="1165" rx="4.1" ry="3.9" class="A"/>
<ellipse cx="1197" cy="1176.8" rx="4.1" ry="3.9" class="A"/>
<ellipse cx="1197" cy="1188.6" rx="4.1" ry="3.9" class="A"/>
<ellipse cx="1197" cy="1200.3" rx="4.1" ry="3.9" class="A"/>
<ellipse cx="1197" cy="1212.1" rx="4.1" ry="3.9" class="A"/>
<ellipse cx="1197" cy="1223.8" rx="4.1" ry="3.9" class="A"/>
<ellipse cx="1197" cy="1235.6" rx="4.1" ry="3.9" class="A"/>
<ellipse cx="1197" cy="1247.4" rx="4.1" ry="3.9" class="A"/>
<ellipse cx="1197" cy="1259.1" rx="4.1" ry="3.9" class="A"/>
<ellipse cx="1197" cy="1270.9" rx="4.1" ry="3.9" class="A"/>
<ellipse cx="1197" cy="1282.6" rx="4.1" ry="3.9" class="A"/>
<ellipse cx="1197" cy="1294.4" rx="4.1" ry="3.9" class="A"/>
<ellipse cx="1197" cy="1306.2" rx="4.1" ry="3.9" class="A"/>
<ellipse cx="1197" cy="1317.9" rx="4.1" ry="3.9" class="A"/>
<text x="1296" y="252.6" class="ttl" style="text-anchor:start;font-size:28.6px">Morph</text>
<circle cx="1322.3" cy="297.1" r="2.9" class="Al"/>
<text x="1363" y="305" class="lg">A</text>
<circle cx="1322.3" cy="351.2" r="2.9" class="Il"/>
<text x="1363" y="359.1" class="lg">I</text>
<circle cx="1322.3" cy="405.3" r="2.9" class="Ol"/>
<text x="1363" y="413.2" class="lg">O</text>
<text x="1296" y="964.2" class="ttl" style="text-anchor:start;font-size:28.6px">Morph</text>
<circle cx="1322.3" cy="1008.7" r="2.9" class="Al"/>
<text x="1363" y="1016.6" class="lg">A</text>
<circle cx="1322.3" cy="1062.8" r="2.9" class="Il"/>
<text x="1363" y="1070.7" class="lg">I</text>
<circle cx="1322.3" cy="1116.9" r="2.9" class="Ol"/>
<text x="1363" y="1124.8" class="lg">O</text>
</svg>
</body></html>
